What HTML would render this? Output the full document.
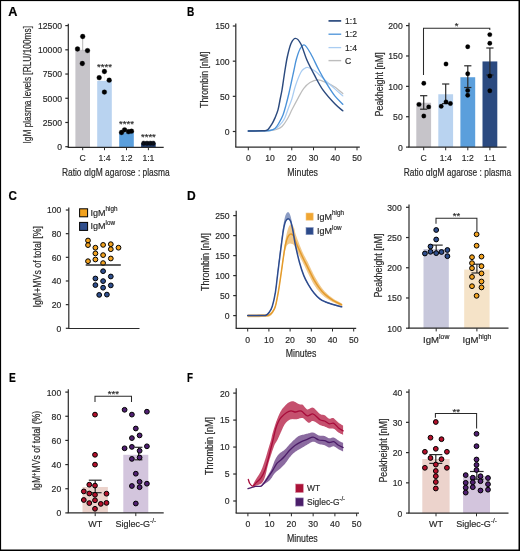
<!DOCTYPE html>
<html><head><meta charset="utf-8"><style>
html,body{margin:0;padding:0;background:#fff;}
svg{display:block;will-change:transform;}
text{font-family:"Liberation Sans", sans-serif;stroke-width:0.18px;}
</style></head><body>
<svg width="520" height="551" viewBox="0 0 520 551">
<rect x="0" y="0" width="520" height="551" fill="#000"/>
<rect x="1.1" y="1.1" width="517.4" height="548.4" fill="#fff"/>
<text x="8.30" y="16.30" font-size="12.8" text-anchor="start" fill="#000" stroke="#000" font-weight="bold" textLength="9.2" lengthAdjust="spacingAndGlyphs">A</text>
<text x="186.90" y="16.30" font-size="12.8" text-anchor="start" fill="#000" stroke="#000" font-weight="bold" textLength="7.3" lengthAdjust="spacingAndGlyphs">B</text>
<text x="8.60" y="199.60" font-size="12.8" text-anchor="start" fill="#000" stroke="#000" font-weight="bold" textLength="8.4" lengthAdjust="spacingAndGlyphs">C</text>
<text x="186.90" y="199.60" font-size="12.8" text-anchor="start" fill="#000" stroke="#000" font-weight="bold" textLength="8.7" lengthAdjust="spacingAndGlyphs">D</text>
<text x="9.10" y="382.00" font-size="12.8" text-anchor="start" fill="#000" stroke="#000" font-weight="bold" textLength="6.8" lengthAdjust="spacingAndGlyphs">E</text>
<text x="187.10" y="382.00" font-size="12.8" text-anchor="start" fill="#000" stroke="#000" font-weight="bold" textLength="6.0" lengthAdjust="spacingAndGlyphs">F</text>
<line x1="68.30" y1="23.80" x2="68.30" y2="147.40" stroke="#2a2a2a" stroke-width="1.2"/>
<line x1="65.30" y1="146.70" x2="68.30" y2="146.70" stroke="#2a2a2a" stroke-width="1.2"/>
<text transform="translate(62.00,150.10) scale(0.92,1)" x="0" y="0" font-size="9.4" text-anchor="end" fill="#2a2a2a" stroke="#2a2a2a" font-weight="normal">0</text>
<line x1="65.30" y1="122.48" x2="68.30" y2="122.48" stroke="#2a2a2a" stroke-width="1.2"/>
<text transform="translate(62.00,125.88) scale(0.92,1)" x="0" y="0" font-size="9.4" text-anchor="end" fill="#2a2a2a" stroke="#2a2a2a" font-weight="normal">2500</text>
<line x1="65.30" y1="98.26" x2="68.30" y2="98.26" stroke="#2a2a2a" stroke-width="1.2"/>
<text transform="translate(62.00,101.66) scale(0.92,1)" x="0" y="0" font-size="9.4" text-anchor="end" fill="#2a2a2a" stroke="#2a2a2a" font-weight="normal">5000</text>
<line x1="65.30" y1="74.04" x2="68.30" y2="74.04" stroke="#2a2a2a" stroke-width="1.2"/>
<text transform="translate(62.00,77.44) scale(0.92,1)" x="0" y="0" font-size="9.4" text-anchor="end" fill="#2a2a2a" stroke="#2a2a2a" font-weight="normal">7500</text>
<line x1="65.30" y1="49.82" x2="68.30" y2="49.82" stroke="#2a2a2a" stroke-width="1.2"/>
<text transform="translate(62.00,53.22) scale(0.92,1)" x="0" y="0" font-size="9.4" text-anchor="end" fill="#2a2a2a" stroke="#2a2a2a" font-weight="normal">10000</text>
<line x1="65.30" y1="25.60" x2="68.30" y2="25.60" stroke="#2a2a2a" stroke-width="1.2"/>
<text transform="translate(62.00,29.00) scale(0.92,1)" x="0" y="0" font-size="9.4" text-anchor="end" fill="#2a2a2a" stroke="#2a2a2a" font-weight="normal">12500</text>
<rect x="75.40" y="49.82" width="14.60" height="97.58" fill="#c6c4c9"/>
<line x1="82.70" y1="147.40" x2="82.70" y2="150.20" stroke="#2a2a2a" stroke-width="1.0"/>
<text transform="translate(82.70,161.30) scale(0.92,1)" x="0" y="0" font-size="9.4" text-anchor="middle" fill="#2a2a2a" stroke="#2a2a2a" font-weight="normal">C</text>
<rect x="97.20" y="80.82" width="14.60" height="66.58" fill="#b9d3f0"/>
<line x1="104.50" y1="147.40" x2="104.50" y2="150.20" stroke="#2a2a2a" stroke-width="1.0"/>
<text transform="translate(104.50,161.30) scale(0.92,1)" x="0" y="0" font-size="9.4" text-anchor="middle" fill="#2a2a2a" stroke="#2a2a2a" font-weight="normal">1:4</text>
<rect x="119.20" y="132.36" width="14.60" height="15.04" fill="#5b9fdc"/>
<line x1="126.50" y1="147.40" x2="126.50" y2="150.20" stroke="#2a2a2a" stroke-width="1.0"/>
<text transform="translate(126.50,161.30) scale(0.92,1)" x="0" y="0" font-size="9.4" text-anchor="middle" fill="#2a2a2a" stroke="#2a2a2a" font-weight="normal">1:2</text>
<rect x="141.10" y="143.50" width="14.60" height="3.90" fill="#1f3c70"/>
<line x1="148.40" y1="147.40" x2="148.40" y2="150.20" stroke="#2a2a2a" stroke-width="1.0"/>
<text transform="translate(148.40,161.30) scale(0.92,1)" x="0" y="0" font-size="9.4" text-anchor="middle" fill="#2a2a2a" stroke="#2a2a2a" font-weight="normal">1:1</text>
<line x1="67.70" y1="147.40" x2="163.70" y2="147.40" stroke="#2a2a2a" stroke-width="1.2"/>
<line x1="82.70" y1="36.50" x2="82.70" y2="50.40" stroke="#888" stroke-width="0.6"/>
<line x1="104.50" y1="71.50" x2="104.50" y2="80.80" stroke="#eee" stroke-width="0.6"/>
<circle cx="82.70" cy="36.50" r="2.4" fill="#000" stroke="#000" stroke-width="0.3"/>
<circle cx="77.50" cy="49.00" r="2.4" fill="#000" stroke="#000" stroke-width="0.3"/>
<circle cx="87.50" cy="50.60" r="2.4" fill="#000" stroke="#000" stroke-width="0.3"/>
<circle cx="82.30" cy="63.50" r="2.4" fill="#000" stroke="#000" stroke-width="0.3"/>
<circle cx="104.40" cy="71.50" r="2.4" fill="#000" stroke="#000" stroke-width="0.3"/>
<circle cx="99.20" cy="77.70" r="2.4" fill="#000" stroke="#000" stroke-width="0.3"/>
<circle cx="109.20" cy="80.20" r="2.4" fill="#000" stroke="#000" stroke-width="0.3"/>
<circle cx="104.40" cy="92.10" r="2.4" fill="#000" stroke="#000" stroke-width="0.3"/>
<circle cx="121.50" cy="132.50" r="2.4" fill="#000" stroke="#000" stroke-width="0.3"/>
<circle cx="124.60" cy="129.80" r="2.4" fill="#000" stroke="#000" stroke-width="0.3"/>
<circle cx="128.50" cy="131.70" r="2.4" fill="#000" stroke="#000" stroke-width="0.3"/>
<circle cx="131.50" cy="131.20" r="2.4" fill="#000" stroke="#000" stroke-width="0.3"/>
<circle cx="143.70" cy="143.20" r="2.3" fill="#0a0f1a" stroke="#000" stroke-width="0.3"/>
<circle cx="147.00" cy="143.20" r="2.3" fill="#0a0f1a" stroke="#000" stroke-width="0.3"/>
<circle cx="150.30" cy="143.20" r="2.3" fill="#0a0f1a" stroke="#000" stroke-width="0.3"/>
<circle cx="153.20" cy="143.20" r="2.3" fill="#0a0f1a" stroke="#000" stroke-width="0.3"/>
<text x="104.50" y="70.30" font-size="9.5" text-anchor="middle" fill="#2a2a2a" stroke="#2a2a2a" font-weight="normal">****</text>
<text x="126.50" y="126.70" font-size="9.5" text-anchor="middle" fill="#2a2a2a" stroke="#2a2a2a" font-weight="normal">****</text>
<text x="148.40" y="140.30" font-size="9.5" text-anchor="middle" fill="#2a2a2a" stroke="#2a2a2a" font-weight="normal">****</text>
<text transform="translate(30.60,84.80) rotate(-90)" x="0" y="0" font-size="10" text-anchor="middle" fill="#2a2a2a" stroke="#2a2a2a" textLength="117.5" lengthAdjust="spacingAndGlyphs">IgM plasma levels [RLU/100ms]</text>
<text x="115.80" y="176.00" font-size="10" text-anchor="middle" fill="#2a2a2a" stroke="#2a2a2a" font-weight="normal" textLength="107.8" lengthAdjust="spacingAndGlyphs">Ratio αIgM agarose : plasma</text>
<line x1="235.80" y1="23.50" x2="235.80" y2="147.10" stroke="#2a2a2a" stroke-width="1.2"/>
<line x1="232.80" y1="131.50" x2="235.80" y2="131.50" stroke="#2a2a2a" stroke-width="1.2"/>
<text transform="translate(229.60,134.90) scale(0.92,1)" x="0" y="0" font-size="9.4" text-anchor="end" fill="#2a2a2a" stroke="#2a2a2a" font-weight="normal">0</text>
<line x1="232.80" y1="96.33" x2="235.80" y2="96.33" stroke="#2a2a2a" stroke-width="1.2"/>
<text transform="translate(229.60,99.73) scale(0.92,1)" x="0" y="0" font-size="9.4" text-anchor="end" fill="#2a2a2a" stroke="#2a2a2a" font-weight="normal">50</text>
<line x1="232.80" y1="61.17" x2="235.80" y2="61.17" stroke="#2a2a2a" stroke-width="1.2"/>
<text transform="translate(229.60,64.57) scale(0.92,1)" x="0" y="0" font-size="9.4" text-anchor="end" fill="#2a2a2a" stroke="#2a2a2a" font-weight="normal">100</text>
<line x1="232.80" y1="26.00" x2="235.80" y2="26.00" stroke="#2a2a2a" stroke-width="1.2"/>
<text transform="translate(229.60,29.40) scale(0.92,1)" x="0" y="0" font-size="9.4" text-anchor="end" fill="#2a2a2a" stroke="#2a2a2a" font-weight="normal">150</text>
<line x1="235.20" y1="147.10" x2="359.80" y2="147.10" stroke="#2a2a2a" stroke-width="1.2"/>
<line x1="248.30" y1="147.10" x2="248.30" y2="150.30" stroke="#2a2a2a" stroke-width="1.0"/>
<text transform="translate(248.30,161.30) scale(0.92,1)" x="0" y="0" font-size="9.4" text-anchor="middle" fill="#2a2a2a" stroke="#2a2a2a" font-weight="normal">0</text>
<line x1="270.04" y1="147.10" x2="270.04" y2="150.30" stroke="#2a2a2a" stroke-width="1.0"/>
<text transform="translate(270.04,161.30) scale(0.92,1)" x="0" y="0" font-size="9.4" text-anchor="middle" fill="#2a2a2a" stroke="#2a2a2a" font-weight="normal">10</text>
<line x1="291.78" y1="147.10" x2="291.78" y2="150.30" stroke="#2a2a2a" stroke-width="1.0"/>
<text transform="translate(291.78,161.30) scale(0.92,1)" x="0" y="0" font-size="9.4" text-anchor="middle" fill="#2a2a2a" stroke="#2a2a2a" font-weight="normal">20</text>
<line x1="313.52" y1="147.10" x2="313.52" y2="150.30" stroke="#2a2a2a" stroke-width="1.0"/>
<text transform="translate(313.52,161.30) scale(0.92,1)" x="0" y="0" font-size="9.4" text-anchor="middle" fill="#2a2a2a" stroke="#2a2a2a" font-weight="normal">30</text>
<line x1="335.26" y1="147.10" x2="335.26" y2="150.30" stroke="#2a2a2a" stroke-width="1.0"/>
<text transform="translate(335.26,161.30) scale(0.92,1)" x="0" y="0" font-size="9.4" text-anchor="middle" fill="#2a2a2a" stroke="#2a2a2a" font-weight="normal">40</text>
<line x1="357.00" y1="147.10" x2="357.00" y2="150.30" stroke="#2a2a2a" stroke-width="1.0"/>
<text transform="translate(357.00,161.30) scale(0.92,1)" x="0" y="0" font-size="9.4" text-anchor="middle" fill="#2a2a2a" stroke="#2a2a2a" font-weight="normal">50</text>
<text x="302.60" y="176.00" font-size="10" text-anchor="middle" fill="#2a2a2a" stroke="#2a2a2a" font-weight="normal" textLength="30.6" lengthAdjust="spacingAndGlyphs">Minutes</text>
<text transform="translate(208.00,79.70) rotate(-90)" x="0" y="0" font-size="10" text-anchor="middle" fill="#2a2a2a" stroke="#2a2a2a" textLength="56.5" lengthAdjust="spacingAndGlyphs">Thrombin [nM]</text>
<path d="M248.30,131.00 C250.58,130.97 258.38,130.87 262.00,130.80 C265.62,130.73 267.62,130.82 270.00,130.60 C272.38,130.38 274.30,130.18 276.30,129.50 C278.30,128.82 280.18,128.20 282.00,126.50 C283.82,124.80 285.48,122.22 287.20,119.30 C288.92,116.38 290.48,112.53 292.30,109.00 C294.12,105.47 296.22,101.50 298.10,98.10 C299.98,94.70 301.62,91.20 303.60,88.60 C305.58,86.00 307.62,83.95 310.00,82.50 C312.38,81.05 315.10,79.83 317.90,79.90 C320.70,79.97 323.98,81.73 326.80,82.90 C329.62,84.07 332.13,85.13 334.80,86.90 C337.47,88.67 341.47,92.40 342.80,93.50" fill="none" stroke="#bdbdbd" stroke-width="1.25" stroke-linejoin="round" stroke-linecap="round"/>
<path d="M248.30,131.00 C250.58,130.97 258.05,130.93 262.00,130.80 C265.95,130.67 269.50,130.70 272.00,130.20 C274.50,129.70 275.37,129.05 277.00,127.80 C278.63,126.55 280.47,124.42 281.80,122.70 C283.13,120.98 283.80,120.20 285.00,117.50 C286.20,114.80 287.83,109.67 289.00,106.50 C290.17,103.33 290.93,101.92 292.00,98.50 C293.07,95.08 293.92,90.37 295.40,86.00 C296.88,81.63 299.38,75.22 300.90,72.30 C302.42,69.38 303.33,69.30 304.50,68.50 C305.67,67.70 306.17,67.10 307.90,67.50 C309.63,67.90 312.08,68.83 314.90,70.90 C317.72,72.97 321.48,76.90 324.80,79.90 C328.12,82.90 331.80,86.23 334.80,88.90 C337.80,91.57 341.47,94.73 342.80,95.90" fill="none" stroke="#aacdf2" stroke-width="1.25" stroke-linejoin="round" stroke-linecap="round"/>
<path d="M248.30,131.00 C250.58,130.97 258.38,130.88 262.00,130.80 C265.62,130.72 267.83,130.87 270.00,130.50 C272.17,130.13 273.50,129.87 275.00,128.60 C276.50,127.33 277.67,125.18 279.00,122.90 C280.33,120.62 281.83,117.88 283.00,114.90 C284.17,111.92 285.00,108.65 286.00,105.00 C287.00,101.35 288.10,96.83 289.00,93.00 C289.90,89.17 290.57,85.83 291.40,82.00 C292.23,78.17 293.18,73.75 294.00,70.00 C294.82,66.25 295.30,63.00 296.30,59.50 C297.30,56.00 298.63,51.42 300.00,49.00 C301.37,46.58 302.68,44.17 304.50,45.00 C306.32,45.83 308.50,49.83 310.90,54.00 C313.30,58.17 316.25,65.02 318.90,70.00 C321.55,74.98 324.15,79.58 326.80,83.90 C329.45,88.22 332.13,92.52 334.80,95.90 C337.47,99.28 341.47,102.82 342.80,104.20" fill="none" stroke="#4a92d9" stroke-width="1.35" stroke-linejoin="round" stroke-linecap="round"/>
<path d="M248.30,131.00 C250.58,130.97 259.13,130.87 262.00,130.80 C264.87,130.73 264.50,130.83 265.50,130.60 C266.50,130.37 266.92,130.52 268.00,129.40 C269.08,128.28 270.83,125.82 272.00,123.90 C273.17,121.98 274.00,120.23 275.00,117.90 C276.00,115.57 277.17,112.88 278.00,109.90 C278.83,106.92 279.33,103.32 280.00,100.00 C280.67,96.68 281.42,93.33 282.00,90.00 C282.58,86.67 282.92,83.83 283.50,80.00 C284.08,76.17 284.83,71.00 285.50,67.00 C286.17,63.00 286.58,59.92 287.50,56.00 C288.42,52.08 289.67,46.43 291.00,43.50 C292.33,40.57 293.85,38.32 295.50,38.40 C297.15,38.48 299.00,40.40 300.90,44.00 C302.80,47.60 304.57,54.68 306.90,60.00 C309.23,65.32 312.23,70.92 314.90,75.90 C317.57,80.88 319.58,85.25 322.90,89.90 C326.22,94.55 331.48,100.32 334.80,103.80 C338.12,107.28 341.47,109.63 342.80,110.80" fill="none" stroke="#2b4a7e" stroke-width="1.45" stroke-linejoin="round" stroke-linecap="round"/>
<line x1="328.50" y1="20.90" x2="341.20" y2="20.90" stroke="#2b4a7e" stroke-width="1.7"/>
<text transform="translate(345.00,24.00) scale(0.92,1)" x="0" y="0" font-size="9.4" text-anchor="start" fill="#2a2a2a" stroke="#2a2a2a" font-weight="normal">1:1</text>
<line x1="328.50" y1="34.20" x2="341.20" y2="34.20" stroke="#4a92d9" stroke-width="1.3"/>
<text transform="translate(345.00,37.30) scale(0.92,1)" x="0" y="0" font-size="9.4" text-anchor="start" fill="#2a2a2a" stroke="#2a2a2a" font-weight="normal">1:2</text>
<line x1="328.50" y1="47.60" x2="341.20" y2="47.60" stroke="#aacdf2" stroke-width="1.3"/>
<text transform="translate(345.00,50.70) scale(0.92,1)" x="0" y="0" font-size="9.4" text-anchor="start" fill="#2a2a2a" stroke="#2a2a2a" font-weight="normal">1:4</text>
<line x1="328.50" y1="60.60" x2="341.20" y2="60.60" stroke="#bdbdbd" stroke-width="1.4"/>
<text transform="translate(345.00,63.70) scale(0.92,1)" x="0" y="0" font-size="9.4" text-anchor="start" fill="#2a2a2a" stroke="#2a2a2a" font-weight="normal">C</text>
<line x1="409.00" y1="22.70" x2="409.00" y2="147.10" stroke="#2a2a2a" stroke-width="1.2"/>
<line x1="406.00" y1="147.10" x2="409.00" y2="147.10" stroke="#2a2a2a" stroke-width="1.2"/>
<text transform="translate(402.70,150.50) scale(0.92,1)" x="0" y="0" font-size="9.4" text-anchor="end" fill="#2a2a2a" stroke="#2a2a2a" font-weight="normal">0</text>
<line x1="406.00" y1="116.72" x2="409.00" y2="116.72" stroke="#2a2a2a" stroke-width="1.2"/>
<text transform="translate(402.70,120.12) scale(0.92,1)" x="0" y="0" font-size="9.4" text-anchor="end" fill="#2a2a2a" stroke="#2a2a2a" font-weight="normal">50</text>
<line x1="406.00" y1="86.35" x2="409.00" y2="86.35" stroke="#2a2a2a" stroke-width="1.2"/>
<text transform="translate(402.70,89.75) scale(0.92,1)" x="0" y="0" font-size="9.4" text-anchor="end" fill="#2a2a2a" stroke="#2a2a2a" font-weight="normal">100</text>
<line x1="406.00" y1="55.97" x2="409.00" y2="55.97" stroke="#2a2a2a" stroke-width="1.2"/>
<text transform="translate(402.70,59.37) scale(0.92,1)" x="0" y="0" font-size="9.4" text-anchor="end" fill="#2a2a2a" stroke="#2a2a2a" font-weight="normal">150</text>
<line x1="406.00" y1="25.60" x2="409.00" y2="25.60" stroke="#2a2a2a" stroke-width="1.2"/>
<text transform="translate(402.70,29.00) scale(0.92,1)" x="0" y="0" font-size="9.4" text-anchor="end" fill="#2a2a2a" stroke="#2a2a2a" font-weight="normal">200</text>
<rect x="416.30" y="102.75" width="14.80" height="44.35" fill="#c6c4c9"/>
<line x1="423.70" y1="147.10" x2="423.70" y2="150.30" stroke="#2a2a2a" stroke-width="1.0"/>
<text transform="translate(423.70,161.30) scale(0.92,1)" x="0" y="0" font-size="9.4" text-anchor="middle" fill="#2a2a2a" stroke="#2a2a2a" font-weight="normal">C</text>
<rect x="438.30" y="94.25" width="14.80" height="52.85" fill="#b9d3f0"/>
<line x1="445.70" y1="147.10" x2="445.70" y2="150.30" stroke="#2a2a2a" stroke-width="1.0"/>
<text transform="translate(445.70,161.30) scale(0.92,1)" x="0" y="0" font-size="9.4" text-anchor="middle" fill="#2a2a2a" stroke="#2a2a2a" font-weight="normal">1:4</text>
<rect x="460.40" y="77.24" width="14.80" height="69.86" fill="#5b9fdc"/>
<line x1="467.80" y1="147.10" x2="467.80" y2="150.30" stroke="#2a2a2a" stroke-width="1.0"/>
<text transform="translate(467.80,161.30) scale(0.92,1)" x="0" y="0" font-size="9.4" text-anchor="middle" fill="#2a2a2a" stroke="#2a2a2a" font-weight="normal">1:2</text>
<rect x="482.50" y="61.44" width="14.80" height="85.66" fill="#2b4a80"/>
<line x1="489.90" y1="147.10" x2="489.90" y2="150.30" stroke="#2a2a2a" stroke-width="1.0"/>
<text transform="translate(489.90,161.30) scale(0.92,1)" x="0" y="0" font-size="9.4" text-anchor="middle" fill="#2a2a2a" stroke="#2a2a2a" font-weight="normal">1:1</text>
<line x1="408.40" y1="147.10" x2="506.50" y2="147.10" stroke="#2a2a2a" stroke-width="1.2"/>
<line x1="423.70" y1="95.70" x2="423.70" y2="109.20" stroke="#2a2a2a" stroke-width="1.2"/>
<line x1="420.10" y1="95.70" x2="427.30" y2="95.70" stroke="#2a2a2a" stroke-width="1.2"/>
<line x1="420.10" y1="109.20" x2="427.30" y2="109.20" stroke="#2a2a2a" stroke-width="1.2"/>
<line x1="445.70" y1="84.00" x2="445.70" y2="103.60" stroke="#2a2a2a" stroke-width="1.2"/>
<line x1="442.10" y1="84.00" x2="449.30" y2="84.00" stroke="#2a2a2a" stroke-width="1.2"/>
<line x1="442.10" y1="103.60" x2="449.30" y2="103.60" stroke="#2a2a2a" stroke-width="1.2"/>
<line x1="467.80" y1="65.80" x2="467.80" y2="87.50" stroke="#2a2a2a" stroke-width="1.2"/>
<line x1="464.20" y1="65.80" x2="471.40" y2="65.80" stroke="#2a2a2a" stroke-width="1.2"/>
<line x1="464.20" y1="87.50" x2="471.40" y2="87.50" stroke="#2a2a2a" stroke-width="1.2"/>
<line x1="489.90" y1="48.00" x2="489.90" y2="75.00" stroke="#2a2a2a" stroke-width="1.2"/>
<line x1="486.30" y1="48.00" x2="493.50" y2="48.00" stroke="#2a2a2a" stroke-width="1.2"/>
<line x1="486.30" y1="75.00" x2="493.50" y2="75.00" stroke="#2a2a2a" stroke-width="1.2"/>
<circle cx="423.80" cy="83.30" r="2.2" fill="#000" stroke="#000" stroke-width="0.3"/>
<circle cx="419.00" cy="104.40" r="2.2" fill="#000" stroke="#000" stroke-width="0.3"/>
<circle cx="428.70" cy="106.90" r="2.2" fill="#000" stroke="#000" stroke-width="0.3"/>
<circle cx="423.80" cy="116.00" r="2.2" fill="#000" stroke="#000" stroke-width="0.3"/>
<circle cx="446.00" cy="64.00" r="2.2" fill="#000" stroke="#000" stroke-width="0.3"/>
<circle cx="441.20" cy="106.30" r="2.2" fill="#000" stroke="#000" stroke-width="0.3"/>
<circle cx="446.00" cy="101.90" r="2.2" fill="#000" stroke="#000" stroke-width="0.3"/>
<circle cx="450.40" cy="103.50" r="2.2" fill="#000" stroke="#000" stroke-width="0.3"/>
<circle cx="467.70" cy="46.70" r="2.2" fill="#000" stroke="#000" stroke-width="0.3"/>
<circle cx="467.70" cy="73.70" r="2.2" fill="#000" stroke="#000" stroke-width="0.3"/>
<circle cx="467.70" cy="90.40" r="2.2" fill="#000" stroke="#000" stroke-width="0.3"/>
<circle cx="467.70" cy="95.20" r="2.2" fill="#000" stroke="#000" stroke-width="0.3"/>
<circle cx="489.80" cy="34.60" r="2.2" fill="#000" stroke="#000" stroke-width="0.3"/>
<circle cx="489.80" cy="43.30" r="2.2" fill="#000" stroke="#000" stroke-width="0.3"/>
<circle cx="489.80" cy="76.00" r="2.2" fill="#000" stroke="#000" stroke-width="0.3"/>
<circle cx="489.80" cy="90.80" r="2.2" fill="#000" stroke="#000" stroke-width="0.3"/>
<path d="M423.5,75 L423.5,28.3 L489.8,28.3 L489.8,30" fill="none" stroke="#2a2a2a" stroke-width="1.05"/>
<text x="456.50" y="29.00" font-size="9.5" text-anchor="middle" fill="#2a2a2a" stroke="#2a2a2a" font-weight="normal">*</text>
<text transform="translate(382.60,84.40) rotate(-90)" x="0" y="0" font-size="10" text-anchor="middle" fill="#2a2a2a" stroke="#2a2a2a" textLength="64" lengthAdjust="spacingAndGlyphs">Peakheight [nM]</text>
<text x="457.50" y="176.00" font-size="10" text-anchor="middle" fill="#2a2a2a" stroke="#2a2a2a" font-weight="normal" textLength="107.6" lengthAdjust="spacingAndGlyphs">Ratio αIgM agarose : plasma</text>
<line x1="68.80" y1="207.50" x2="68.80" y2="328.50" stroke="#2a2a2a" stroke-width="1.2"/>
<line x1="65.80" y1="328.30" x2="68.80" y2="328.30" stroke="#2a2a2a" stroke-width="1.2"/>
<text transform="translate(61.30,331.70) scale(0.92,1)" x="0" y="0" font-size="9.4" text-anchor="end" fill="#2a2a2a" stroke="#2a2a2a" font-weight="normal">0</text>
<line x1="65.80" y1="304.64" x2="68.80" y2="304.64" stroke="#2a2a2a" stroke-width="1.2"/>
<text transform="translate(61.30,308.04) scale(0.92,1)" x="0" y="0" font-size="9.4" text-anchor="end" fill="#2a2a2a" stroke="#2a2a2a" font-weight="normal">20</text>
<line x1="65.80" y1="280.98" x2="68.80" y2="280.98" stroke="#2a2a2a" stroke-width="1.2"/>
<text transform="translate(61.30,284.38) scale(0.92,1)" x="0" y="0" font-size="9.4" text-anchor="end" fill="#2a2a2a" stroke="#2a2a2a" font-weight="normal">40</text>
<line x1="65.80" y1="257.32" x2="68.80" y2="257.32" stroke="#2a2a2a" stroke-width="1.2"/>
<text transform="translate(61.30,260.72) scale(0.92,1)" x="0" y="0" font-size="9.4" text-anchor="end" fill="#2a2a2a" stroke="#2a2a2a" font-weight="normal">60</text>
<line x1="65.80" y1="233.66" x2="68.80" y2="233.66" stroke="#2a2a2a" stroke-width="1.2"/>
<text transform="translate(61.30,237.06) scale(0.92,1)" x="0" y="0" font-size="9.4" text-anchor="end" fill="#2a2a2a" stroke="#2a2a2a" font-weight="normal">80</text>
<line x1="65.80" y1="210.00" x2="68.80" y2="210.00" stroke="#2a2a2a" stroke-width="1.2"/>
<text transform="translate(61.30,213.40) scale(0.92,1)" x="0" y="0" font-size="9.4" text-anchor="end" fill="#2a2a2a" stroke="#2a2a2a" font-weight="normal">100</text>
<line x1="68.20" y1="328.50" x2="139.50" y2="328.50" stroke="#2a2a2a" stroke-width="1.2"/>
<text transform="translate(40.50,266.80) rotate(-90)" x="0" y="0" font-size="10" text-anchor="middle" fill="#2a2a2a" stroke="#2a2a2a" textLength="81.5" lengthAdjust="spacingAndGlyphs">IgM+MVs of total [%]</text>
<circle cx="88.00" cy="240.50" r="2.4" fill="#f2a21f" stroke="#000" stroke-width="1.0"/>
<circle cx="88.00" cy="245.10" r="2.4" fill="#f2a21f" stroke="#000" stroke-width="1.0"/>
<circle cx="95.40" cy="247.70" r="2.4" fill="#f2a21f" stroke="#000" stroke-width="1.0"/>
<circle cx="103.10" cy="244.90" r="2.4" fill="#f2a21f" stroke="#000" stroke-width="1.0"/>
<circle cx="110.80" cy="244.20" r="2.4" fill="#f2a21f" stroke="#000" stroke-width="1.0"/>
<circle cx="110.80" cy="249.20" r="2.4" fill="#f2a21f" stroke="#000" stroke-width="1.0"/>
<circle cx="118.50" cy="247.70" r="2.4" fill="#f2a21f" stroke="#000" stroke-width="1.0"/>
<circle cx="95.40" cy="253.40" r="2.4" fill="#f2a21f" stroke="#000" stroke-width="1.0"/>
<circle cx="103.10" cy="255.10" r="2.4" fill="#f2a21f" stroke="#000" stroke-width="1.0"/>
<circle cx="88.00" cy="261.20" r="2.4" fill="#f2a21f" stroke="#000" stroke-width="1.0"/>
<circle cx="95.40" cy="259.50" r="2.4" fill="#f2a21f" stroke="#000" stroke-width="1.0"/>
<circle cx="110.80" cy="258.50" r="2.4" fill="#f2a21f" stroke="#000" stroke-width="1.0"/>
<circle cx="103.10" cy="263.10" r="2.4" fill="#f2a21f" stroke="#000" stroke-width="1.0"/>
<line x1="85.70" y1="265.00" x2="120.80" y2="265.00" stroke="#2a2a2a" stroke-width="1.5"/>
<circle cx="103.10" cy="271.20" r="2.4" fill="#2f4e8c" stroke="#000" stroke-width="1.0"/>
<circle cx="95.40" cy="278.50" r="2.4" fill="#2f4e8c" stroke="#000" stroke-width="1.0"/>
<circle cx="110.80" cy="276.50" r="2.4" fill="#2f4e8c" stroke="#000" stroke-width="1.0"/>
<circle cx="103.10" cy="281.10" r="2.4" fill="#2f4e8c" stroke="#000" stroke-width="1.0"/>
<circle cx="95.40" cy="285.10" r="2.4" fill="#2f4e8c" stroke="#000" stroke-width="1.0"/>
<circle cx="110.80" cy="285.40" r="2.4" fill="#2f4e8c" stroke="#000" stroke-width="1.0"/>
<circle cx="103.10" cy="287.70" r="2.4" fill="#2f4e8c" stroke="#000" stroke-width="1.0"/>
<circle cx="99.20" cy="294.90" r="2.4" fill="#2f4e8c" stroke="#000" stroke-width="1.0"/>
<circle cx="106.90" cy="294.60" r="2.4" fill="#2f4e8c" stroke="#000" stroke-width="1.0"/>
<rect x="79.6" y="208.8" width="8" height="8" fill="#f2a21f" stroke="#000" stroke-width="1.0"/>
<rect x="79.6" y="222.4" width="8" height="8" fill="#2f4e8c" stroke="#000" stroke-width="1.0"/>
<text x="90.50" y="215.50" font-size="9" text-anchor="start" fill="#2a2a2a" stroke="#2a2a2a" font-weight="normal">IgM<tspan font-size="6.3" dy="-4.3">high</tspan></text>
<text x="90.50" y="229.00" font-size="9" text-anchor="start" fill="#2a2a2a" stroke="#2a2a2a" font-weight="normal">IgM<tspan font-size="6.3" dy="-4.3">low</tspan></text>
<line x1="236.20" y1="210.80" x2="236.20" y2="328.30" stroke="#2a2a2a" stroke-width="1.2"/>
<line x1="233.20" y1="315.60" x2="236.20" y2="315.60" stroke="#2a2a2a" stroke-width="1.2"/>
<text transform="translate(229.60,319.00) scale(0.92,1)" x="0" y="0" font-size="9.4" text-anchor="end" fill="#2a2a2a" stroke="#2a2a2a" font-weight="normal">0</text>
<line x1="233.20" y1="295.60" x2="236.20" y2="295.60" stroke="#2a2a2a" stroke-width="1.2"/>
<text transform="translate(229.60,299.00) scale(0.92,1)" x="0" y="0" font-size="9.4" text-anchor="end" fill="#2a2a2a" stroke="#2a2a2a" font-weight="normal">50</text>
<line x1="233.20" y1="275.60" x2="236.20" y2="275.60" stroke="#2a2a2a" stroke-width="1.2"/>
<text transform="translate(229.60,279.00) scale(0.92,1)" x="0" y="0" font-size="9.4" text-anchor="end" fill="#2a2a2a" stroke="#2a2a2a" font-weight="normal">100</text>
<line x1="233.20" y1="255.60" x2="236.20" y2="255.60" stroke="#2a2a2a" stroke-width="1.2"/>
<text transform="translate(229.60,259.00) scale(0.92,1)" x="0" y="0" font-size="9.4" text-anchor="end" fill="#2a2a2a" stroke="#2a2a2a" font-weight="normal">150</text>
<line x1="233.20" y1="235.60" x2="236.20" y2="235.60" stroke="#2a2a2a" stroke-width="1.2"/>
<text transform="translate(229.60,239.00) scale(0.92,1)" x="0" y="0" font-size="9.4" text-anchor="end" fill="#2a2a2a" stroke="#2a2a2a" font-weight="normal">200</text>
<line x1="233.20" y1="215.60" x2="236.20" y2="215.60" stroke="#2a2a2a" stroke-width="1.2"/>
<text transform="translate(229.60,219.00) scale(0.92,1)" x="0" y="0" font-size="9.4" text-anchor="end" fill="#2a2a2a" stroke="#2a2a2a" font-weight="normal">250</text>
<line x1="235.60" y1="328.30" x2="356.20" y2="328.30" stroke="#2a2a2a" stroke-width="1.2"/>
<line x1="247.70" y1="328.30" x2="247.70" y2="331.50" stroke="#2a2a2a" stroke-width="1.0"/>
<text transform="translate(247.70,343.30) scale(0.92,1)" x="0" y="0" font-size="9.4" text-anchor="middle" fill="#2a2a2a" stroke="#2a2a2a" font-weight="normal">0</text>
<line x1="268.90" y1="328.30" x2="268.90" y2="331.50" stroke="#2a2a2a" stroke-width="1.0"/>
<text transform="translate(268.90,343.30) scale(0.92,1)" x="0" y="0" font-size="9.4" text-anchor="middle" fill="#2a2a2a" stroke="#2a2a2a" font-weight="normal">10</text>
<line x1="290.10" y1="328.30" x2="290.10" y2="331.50" stroke="#2a2a2a" stroke-width="1.0"/>
<text transform="translate(290.10,343.30) scale(0.92,1)" x="0" y="0" font-size="9.4" text-anchor="middle" fill="#2a2a2a" stroke="#2a2a2a" font-weight="normal">20</text>
<line x1="311.30" y1="328.30" x2="311.30" y2="331.50" stroke="#2a2a2a" stroke-width="1.0"/>
<text transform="translate(311.30,343.30) scale(0.92,1)" x="0" y="0" font-size="9.4" text-anchor="middle" fill="#2a2a2a" stroke="#2a2a2a" font-weight="normal">30</text>
<line x1="332.50" y1="328.30" x2="332.50" y2="331.50" stroke="#2a2a2a" stroke-width="1.0"/>
<text transform="translate(332.50,343.30) scale(0.92,1)" x="0" y="0" font-size="9.4" text-anchor="middle" fill="#2a2a2a" stroke="#2a2a2a" font-weight="normal">40</text>
<line x1="353.70" y1="328.30" x2="353.70" y2="331.50" stroke="#2a2a2a" stroke-width="1.0"/>
<text transform="translate(353.70,343.30) scale(0.92,1)" x="0" y="0" font-size="9.4" text-anchor="middle" fill="#2a2a2a" stroke="#2a2a2a" font-weight="normal">50</text>
<text x="301.00" y="357.30" font-size="10" text-anchor="middle" fill="#2a2a2a" stroke="#2a2a2a" font-weight="normal" textLength="30.6" lengthAdjust="spacingAndGlyphs">Minutes</text>
<text transform="translate(208.50,262.00) rotate(-90)" x="0" y="0" font-size="10" text-anchor="middle" fill="#2a2a2a" stroke="#2a2a2a" textLength="58" lengthAdjust="spacingAndGlyphs">Thrombin [nM]</text>
<path d="M247.70,314.20 L248.86,314.19 L250.43,314.18 L252.31,314.17 L254.41,314.16 L256.63,314.14 L258.87,314.12 L261.02,314.10 L262.99,314.07 L264.69,314.04 L266.00,314.00 L266.95,313.95 L267.66,313.92 L268.16,313.88 L268.50,313.84 L268.72,313.79 L268.86,313.73 L268.97,313.65 L269.08,313.55 L269.24,313.43 L269.50,313.29 L269.81,313.13 L270.10,312.96 L270.38,312.78 L270.66,312.59 L270.93,312.37 L271.19,312.13 L271.46,311.85 L271.73,311.54 L272.01,311.18 L272.30,310.77 L272.60,310.35 L272.90,309.93 L273.21,309.49 L273.52,309.03 L273.83,308.52 L274.15,307.94 L274.46,307.28 L274.78,306.52 L275.09,305.64 L275.40,304.63 L275.71,303.48 L276.02,302.20 L276.33,300.82 L276.64,299.33 L276.96,297.76 L277.27,296.12 L277.58,294.41 L277.89,292.67 L278.19,290.88 L278.50,289.08 L278.80,287.23 L279.11,285.31 L279.41,283.32 L279.71,281.27 L280.01,279.19 L280.31,277.07 L280.61,274.93 L280.91,272.77 L281.20,270.62 L281.50,268.48 L281.80,266.30 L282.10,264.02 L282.40,261.67 L282.71,259.31 L283.01,256.95 L283.30,254.64 L283.59,252.40 L283.87,250.27 L284.14,248.29 L284.40,246.48 L284.64,244.85 L284.87,243.35 L285.09,241.97 L285.29,240.70 L285.49,239.52 L285.69,238.41 L285.89,237.35 L286.09,236.34 L286.29,235.36 L286.50,234.39 L286.71,233.44 L286.93,232.55 L287.14,231.70 L287.35,230.90 L287.57,230.15 L287.79,229.44 L288.01,228.78 L288.23,228.17 L288.46,227.60 L288.70,227.07 L288.94,226.58 L289.19,226.11 L289.45,225.69 L289.71,225.31 L289.97,224.98 L290.23,224.70 L290.50,224.48 L290.77,224.33 L291.03,224.24 L291.30,224.24 L291.57,224.32 L291.85,224.48 L292.13,224.72 L292.41,225.02 L292.69,225.38 L292.97,225.80 L293.25,226.25 L293.51,226.74 L293.76,227.25 L294.00,227.78 L294.20,228.31 L294.36,228.83 L294.48,229.37 L294.60,229.94 L294.71,230.55 L294.85,231.23 L295.02,231.99 L295.24,232.86 L295.53,233.84 L295.90,234.96 L296.37,236.27 L296.92,237.78 L297.53,239.44 L298.20,241.21 L298.91,243.04 L299.63,244.90 L300.36,246.74 L301.07,248.50 L301.76,250.15 L302.40,251.65 L303.01,253.00 L303.60,254.25 L304.19,255.42 L304.77,256.54 L305.34,257.61 L305.91,258.66 L306.48,259.71 L307.05,260.77 L307.62,261.86 L308.20,263.00 L308.78,264.19 L309.36,265.41 L309.94,266.65 L310.52,267.90 L311.10,269.15 L311.68,270.39 L312.26,271.61 L312.84,272.81 L313.42,273.98 L314.00,275.10 L314.58,276.18 L315.17,277.25 L315.76,278.30 L316.35,279.33 L316.94,280.33 L317.52,281.30 L318.10,282.25 L318.68,283.17 L319.24,284.05 L319.80,284.89 L320.33,285.69 L320.83,286.44 L321.32,287.15 L321.79,287.82 L322.26,288.47 L322.75,289.10 L323.25,289.73 L323.79,290.36 L324.37,291.01 L325.00,291.67 L325.68,292.36 L326.41,293.06 L327.17,293.77 L327.96,294.49 L328.78,295.19 L329.62,295.89 L330.46,296.58 L331.31,297.24 L332.16,297.87 L333.00,298.47 L333.88,299.05 L334.83,299.63 L335.83,300.20 L336.85,300.76 L337.85,301.29 L338.81,301.78 L339.71,302.23 L340.51,302.64 L341.18,302.98 L341.70,303.26 L341.70,306.34 L341.18,306.10 L340.51,305.78 L339.71,305.42 L338.81,305.00 L337.85,304.55 L336.85,304.08 L335.83,303.59 L334.83,303.09 L333.88,302.60 L333.00,302.13 L332.16,301.66 L331.31,301.18 L330.46,300.68 L329.62,300.18 L328.78,299.67 L327.96,299.15 L327.17,298.64 L326.41,298.13 L325.68,297.63 L325.00,297.13 L324.37,296.65 L323.79,296.20 L323.25,295.76 L322.75,295.32 L322.26,294.88 L321.79,294.43 L321.32,293.95 L320.83,293.45 L320.33,292.90 L319.80,292.31 L319.24,291.67 L318.68,291.02 L318.10,290.34 L317.52,289.63 L316.94,288.90 L316.35,288.13 L315.76,287.33 L315.17,286.49 L314.58,285.62 L314.00,284.70 L313.42,283.74 L312.84,282.72 L312.26,281.65 L311.68,280.55 L311.10,279.42 L310.52,278.26 L309.94,277.10 L309.36,275.93 L308.78,274.76 L308.20,273.60 L307.62,272.45 L307.05,271.29 L306.48,270.12 L305.91,268.94 L305.34,267.75 L304.77,266.56 L304.19,265.36 L303.60,264.16 L303.01,262.96 L302.40,261.75 L301.76,260.50 L301.07,259.19 L300.36,257.84 L299.63,256.47 L298.91,255.12 L298.20,253.80 L297.53,252.55 L296.92,251.39 L296.37,250.34 L295.90,249.44 L295.53,248.68 L295.24,248.03 L295.02,247.49 L294.85,247.03 L294.71,246.65 L294.60,246.32 L294.48,246.03 L294.36,245.76 L294.20,245.49 L294.00,245.22 L293.76,244.95 L293.51,244.72 L293.25,244.53 L292.97,244.36 L292.69,244.22 L292.41,244.09 L292.13,243.99 L291.85,243.90 L291.57,243.83 L291.30,243.76 L291.03,243.70 L290.77,243.65 L290.50,243.61 L290.23,243.59 L289.97,243.59 L289.71,243.60 L289.45,243.64 L289.19,243.71 L288.94,243.80 L288.70,243.93 L288.46,244.07 L288.23,244.22 L288.01,244.39 L287.79,244.57 L287.57,244.79 L287.35,245.04 L287.14,245.35 L286.93,245.70 L286.71,246.12 L286.50,246.61 L286.29,247.14 L286.09,247.69 L285.89,248.26 L285.69,248.89 L285.49,249.57 L285.29,250.34 L285.09,251.20 L284.87,252.17 L284.64,253.27 L284.40,254.52 L284.14,255.94 L283.87,257.54 L283.59,259.29 L283.30,261.15 L283.01,263.10 L282.71,265.11 L282.40,267.14 L282.10,269.17 L281.80,271.17 L281.50,273.12 L281.20,275.04 L280.91,277.01 L280.61,279.01 L280.31,281.02 L280.01,283.03 L279.71,285.02 L279.41,286.98 L279.11,288.89 L278.80,290.74 L278.50,292.52 L278.19,294.25 L277.89,295.98 L277.58,297.69 L277.27,299.36 L276.96,300.98 L276.64,302.53 L276.33,304.00 L276.02,305.37 L275.71,306.63 L275.40,307.77 L275.09,308.76 L274.78,309.63 L274.46,310.37 L274.15,311.02 L273.83,311.60 L273.52,312.10 L273.21,312.56 L272.90,312.99 L272.60,313.41 L272.30,313.83 L272.01,314.23 L271.73,314.58 L271.46,314.89 L271.19,315.16 L270.93,315.40 L270.66,315.62 L270.38,315.81 L270.10,315.99 L269.81,316.15 L269.50,316.31 L269.24,316.46 L269.08,316.57 L268.97,316.67 L268.86,316.74 L268.72,316.80 L268.50,316.85 L268.16,316.89 L267.66,316.93 L266.95,316.96 L266.00,317.00 L264.69,317.04 L262.99,317.08 L261.02,317.11 L258.87,317.13 L256.63,317.15 L254.41,317.16 L252.31,317.17 L250.43,317.18 L248.86,317.19 L247.70,317.20 Z" fill="#f1c98c" fill-opacity="1.0" stroke="none"/>
<path d="M247.70,315.00 L248.60,314.99 L249.81,314.99 L251.26,314.98 L252.88,314.98 L254.60,314.97 L256.34,314.96 L258.02,314.95 L259.57,314.93 L260.92,314.92 L262.00,314.90 L262.82,314.89 L263.47,314.89 L263.98,314.91 L264.38,314.92 L264.69,314.93 L264.95,314.92 L265.18,314.89 L265.42,314.83 L265.68,314.74 L266.00,314.60 L266.35,314.43 L266.69,314.24 L267.02,314.03 L267.34,313.79 L267.66,313.52 L267.97,313.23 L268.27,312.90 L268.58,312.53 L268.89,312.13 L269.20,311.69 L269.51,311.24 L269.83,310.79 L270.14,310.33 L270.45,309.84 L270.76,309.31 L271.06,308.71 L271.37,308.04 L271.68,307.26 L271.99,306.37 L272.30,305.36 L272.61,304.20 L272.93,302.92 L273.26,301.54 L273.58,300.06 L273.90,298.50 L274.22,296.87 L274.53,295.18 L274.83,293.44 L275.12,291.67 L275.40,289.87 L275.66,288.02 L275.91,286.07 L276.15,284.05 L276.38,281.97 L276.60,279.85 L276.82,277.71 L277.04,275.57 L277.25,273.45 L277.47,271.37 L277.70,269.35 L277.93,267.36 L278.16,265.35 L278.40,263.36 L278.63,261.37 L278.87,259.40 L279.10,257.45 L279.33,255.54 L279.56,253.68 L279.78,251.86 L280.00,250.11 L280.21,248.40 L280.43,246.74 L280.64,245.11 L280.85,243.52 L281.05,241.98 L281.25,240.47 L281.45,239.01 L281.64,237.60 L281.82,236.23 L282.00,234.91 L282.17,233.65 L282.32,232.46 L282.47,231.32 L282.61,230.23 L282.75,229.18 L282.89,228.16 L283.03,227.17 L283.18,226.18 L283.33,225.21 L283.50,224.24 L283.68,223.25 L283.86,222.26 L284.05,221.26 L284.24,220.28 L284.44,219.33 L284.64,218.42 L284.85,217.55 L285.06,216.74 L285.28,216.01 L285.50,215.36 L285.73,214.77 L285.97,214.24 L286.21,213.75 L286.46,213.32 L286.72,212.95 L286.98,212.64 L287.23,212.40 L287.49,212.23 L287.75,212.14 L288.00,212.12 L288.25,212.18 L288.50,212.30 L288.75,212.49 L289.00,212.74 L289.25,213.07 L289.50,213.47 L289.75,213.96 L290.00,214.53 L290.25,215.19 L290.50,215.94 L290.75,216.82 L291.01,217.83 L291.26,218.94 L291.52,220.15 L291.78,221.43 L292.03,222.76 L292.28,224.12 L292.53,225.49 L292.77,226.86 L293.00,228.19 L293.22,229.50 L293.41,230.79 L293.59,232.09 L293.76,233.40 L293.93,234.74 L294.11,236.11 L294.31,237.54 L294.54,239.02 L294.80,240.57 L295.10,242.21 L295.45,243.98 L295.83,245.88 L296.25,247.89 L296.70,249.97 L297.16,252.08 L297.64,254.19 L298.11,256.26 L298.59,258.25 L299.05,260.12 L299.50,261.85 L299.93,263.45 L300.36,264.97 L300.79,266.41 L301.22,267.79 L301.65,269.11 L302.08,270.37 L302.51,271.59 L302.94,272.76 L303.37,273.89 L303.80,275.00 L304.23,276.05 L304.65,277.02 L305.07,277.94 L305.49,278.80 L305.91,279.63 L306.33,280.43 L306.77,281.23 L307.23,282.03 L307.70,282.85 L308.20,283.70 L308.72,284.58 L309.27,285.49 L309.84,286.40 L310.42,287.32 L311.01,288.23 L311.61,289.13 L312.22,290.00 L312.82,290.85 L313.41,291.65 L314.00,292.40 L314.58,293.11 L315.17,293.79 L315.76,294.44 L316.35,295.07 L316.94,295.66 L317.52,296.23 L318.10,296.76 L318.68,297.27 L319.24,297.75 L319.80,298.20 L320.33,298.61 L320.83,298.97 L321.32,299.29 L321.79,299.57 L322.26,299.84 L322.75,300.09 L323.25,300.33 L323.79,300.57 L324.37,300.83 L325.00,301.10 L325.68,301.39 L326.41,301.67 L327.17,301.96 L327.96,302.25 L328.78,302.54 L329.62,302.82 L330.46,303.10 L331.31,303.37 L332.16,303.64 L333.00,303.90 L333.88,304.16 L334.83,304.43 L335.83,304.70 L336.85,304.97 L337.85,305.22 L338.81,305.47 L339.71,305.69 L340.51,305.90 L341.18,306.07 L341.70,306.20 L341.70,307.40 L341.18,307.27 L340.51,307.10 L339.71,306.89 L338.81,306.67 L337.85,306.43 L336.85,306.17 L335.83,305.90 L334.83,305.63 L333.88,305.36 L333.00,305.10 L332.16,304.84 L331.31,304.57 L330.46,304.30 L329.62,304.02 L328.78,303.74 L327.96,303.45 L327.17,303.16 L326.41,302.87 L325.68,302.59 L325.00,302.30 L324.37,302.03 L323.79,301.77 L323.25,301.53 L322.75,301.29 L322.26,301.04 L321.79,300.77 L321.32,300.49 L320.83,300.17 L320.33,299.81 L319.80,299.40 L319.24,298.95 L318.68,298.47 L318.10,297.96 L317.52,297.43 L316.94,296.86 L316.35,296.27 L315.76,295.64 L315.17,294.99 L314.58,294.31 L314.00,293.60 L313.41,292.85 L312.82,292.05 L312.22,291.20 L311.61,290.33 L311.01,289.43 L310.42,288.52 L309.84,287.60 L309.27,286.69 L308.72,285.78 L308.20,284.90 L307.70,284.05 L307.23,283.23 L306.77,282.43 L306.33,281.63 L305.91,280.83 L305.49,280.00 L305.07,279.13 L304.65,278.22 L304.23,277.25 L303.80,276.20 L303.37,275.09 L302.94,273.95 L302.51,272.77 L302.08,271.55 L301.65,270.28 L301.22,268.96 L300.79,267.59 L300.36,266.16 L299.93,264.66 L299.50,263.10 L299.05,261.42 L298.59,259.61 L298.11,257.69 L297.64,255.70 L297.16,253.67 L296.70,251.65 L296.25,249.67 L295.83,247.76 L295.45,245.96 L295.10,244.30 L294.80,242.77 L294.54,241.33 L294.31,239.96 L294.11,238.65 L293.93,237.40 L293.76,236.19 L293.59,235.02 L293.41,233.87 L293.22,232.73 L293.00,231.60 L292.77,230.46 L292.53,229.30 L292.28,228.16 L292.03,227.04 L291.78,225.95 L291.52,224.92 L291.26,223.95 L291.01,223.06 L290.75,222.28 L290.50,221.60 L290.25,221.04 L290.00,220.57 L289.75,220.18 L289.50,219.88 L289.25,219.65 L289.00,219.48 L288.75,219.37 L288.50,219.31 L288.25,219.29 L288.00,219.30 L287.75,219.35 L287.49,219.45 L287.23,219.60 L286.98,219.80 L286.72,220.06 L286.46,220.36 L286.21,220.72 L285.97,221.13 L285.73,221.59 L285.50,222.10 L285.28,222.68 L285.06,223.33 L284.85,224.04 L284.64,224.81 L284.44,225.62 L284.24,226.47 L284.05,227.35 L283.86,228.26 L283.68,229.18 L283.50,230.10 L283.33,231.03 L283.18,231.96 L283.03,232.91 L282.89,233.88 L282.75,234.89 L282.61,235.93 L282.47,237.01 L282.32,238.15 L282.17,239.34 L282.00,240.60 L281.82,241.93 L281.64,243.32 L281.45,244.77 L281.25,246.26 L281.05,247.81 L280.85,249.39 L280.64,251.01 L280.43,252.65 L280.21,254.32 L280.00,256.00 L279.78,257.72 L279.56,259.49 L279.33,261.30 L279.10,263.14 L278.87,265.01 L278.63,266.89 L278.40,268.78 L278.16,270.67 L277.93,272.54 L277.70,274.40 L277.47,276.27 L277.25,278.17 L277.04,280.09 L276.82,282.01 L276.60,283.93 L276.38,285.83 L276.15,287.68 L275.91,289.49 L275.66,291.24 L275.40,292.90 L275.12,294.51 L274.83,296.10 L274.53,297.65 L274.22,299.17 L273.90,300.62 L273.58,302.02 L273.26,303.35 L272.93,304.59 L272.61,305.75 L272.30,306.80 L271.99,307.74 L271.68,308.57 L271.37,309.30 L271.06,309.96 L270.76,310.54 L270.45,311.06 L270.14,311.55 L269.83,312.01 L269.51,312.45 L269.20,312.90 L268.89,313.33 L268.58,313.73 L268.27,314.09 L267.97,314.42 L267.66,314.71 L267.34,314.98 L267.02,315.22 L266.69,315.44 L266.35,315.63 L266.00,315.80 L265.68,315.94 L265.42,316.03 L265.18,316.09 L264.95,316.12 L264.69,316.13 L264.38,316.12 L263.98,316.11 L263.47,316.09 L262.82,316.09 L262.00,316.10 L260.92,316.12 L259.57,316.13 L258.02,316.15 L256.34,316.16 L254.60,316.17 L252.88,316.18 L251.26,316.18 L249.81,316.19 L248.60,316.19 L247.70,316.20 Z" fill="#8b9cc4" fill-opacity="1.0" stroke="none"/>
<path d="M247.70,315.70 C250.75,315.67 262.37,315.65 266.00,315.50 C269.63,315.35 268.45,315.33 269.50,314.80 C270.55,314.27 271.32,313.73 272.30,312.30 C273.28,310.87 274.37,309.78 275.40,306.20 C276.43,302.62 277.48,296.70 278.50,290.80 C279.52,284.90 280.52,277.52 281.50,270.80 C282.48,264.08 283.57,255.55 284.40,250.50 C285.23,245.45 285.78,243.00 286.50,240.50 C287.22,238.00 287.90,236.58 288.70,235.50 C289.50,234.42 290.42,233.83 291.30,234.00 C292.18,234.17 293.23,235.13 294.00,236.50 C294.77,237.87 294.50,238.83 295.90,242.20 C297.30,245.57 300.35,252.35 302.40,256.70 C304.45,261.05 306.27,264.43 308.20,268.30 C310.13,272.17 312.07,276.52 314.00,279.90 C315.93,283.28 317.97,286.18 319.80,288.60 C321.63,291.02 322.80,292.45 325.00,294.40 C327.20,296.35 330.22,298.57 333.00,300.30 C335.78,302.03 340.25,304.05 341.70,304.80" fill="none" stroke="#e49b2b" stroke-width="1.5" stroke-linejoin="round" stroke-linecap="round"/>
<path d="M247.70,315.60 C250.08,315.58 258.95,315.57 262.00,315.50 C265.05,315.43 264.80,315.73 266.00,315.20 C267.20,314.67 268.15,313.80 269.20,312.30 C270.25,310.80 271.27,309.53 272.30,306.20 C273.33,302.87 274.50,297.70 275.40,292.30 C276.30,286.90 276.93,279.95 277.70,273.80 C278.47,267.65 279.28,261.03 280.00,255.40 C280.72,249.77 281.42,244.32 282.00,240.00 C282.58,235.68 282.92,232.58 283.50,229.50 C284.08,226.42 284.75,223.30 285.50,221.50 C286.25,219.70 287.17,218.78 288.00,218.70 C288.83,218.62 289.67,218.95 290.50,221.00 C291.33,223.05 292.23,227.22 293.00,231.00 C293.77,234.78 294.02,238.45 295.10,243.70 C296.18,248.95 298.05,257.18 299.50,262.50 C300.95,267.82 302.35,271.97 303.80,275.60 C305.25,279.23 306.50,281.40 308.20,284.30 C309.90,287.20 312.07,290.58 314.00,293.00 C315.93,295.42 317.97,297.35 319.80,298.80 C321.63,300.25 322.80,300.75 325.00,301.70 C327.20,302.65 330.22,303.65 333.00,304.50 C335.78,305.35 340.25,306.42 341.70,306.80" fill="none" stroke="#2d4b8e" stroke-width="1.5" stroke-linejoin="round" stroke-linecap="round"/>
<rect x="306.0" y="213.0" width="7.2" height="7.2" fill="#f0a632" stroke="#f4c98a" stroke-width="0.6"/>
<rect x="306.0" y="227.5" width="7.2" height="7.2" fill="#2c4a8a" stroke="#8a9ac0" stroke-width="0.6"/>
<text x="317.00" y="219.50" font-size="9" text-anchor="start" fill="#2a2a2a" stroke="#2a2a2a" font-weight="normal">IgM<tspan font-size="6.3" dy="-4.3">high</tspan></text>
<text x="317.00" y="234.00" font-size="9" text-anchor="start" fill="#2a2a2a" stroke="#2a2a2a" font-weight="normal">IgM<tspan font-size="6.3" dy="-4.3">low</tspan></text>
<line x1="409.00" y1="204.40" x2="409.00" y2="328.20" stroke="#2a2a2a" stroke-width="1.2"/>
<line x1="406.00" y1="328.20" x2="409.00" y2="328.20" stroke="#2a2a2a" stroke-width="1.2"/>
<text transform="translate(401.70,331.60) scale(0.92,1)" x="0" y="0" font-size="9.4" text-anchor="end" fill="#2a2a2a" stroke="#2a2a2a" font-weight="normal">100</text>
<line x1="406.00" y1="297.98" x2="409.00" y2="297.98" stroke="#2a2a2a" stroke-width="1.2"/>
<text transform="translate(401.70,301.38) scale(0.92,1)" x="0" y="0" font-size="9.4" text-anchor="end" fill="#2a2a2a" stroke="#2a2a2a" font-weight="normal">150</text>
<line x1="406.00" y1="267.75" x2="409.00" y2="267.75" stroke="#2a2a2a" stroke-width="1.2"/>
<text transform="translate(401.70,271.15) scale(0.92,1)" x="0" y="0" font-size="9.4" text-anchor="end" fill="#2a2a2a" stroke="#2a2a2a" font-weight="normal">200</text>
<line x1="406.00" y1="237.53" x2="409.00" y2="237.53" stroke="#2a2a2a" stroke-width="1.2"/>
<text transform="translate(401.70,240.93) scale(0.92,1)" x="0" y="0" font-size="9.4" text-anchor="end" fill="#2a2a2a" stroke="#2a2a2a" font-weight="normal">250</text>
<line x1="406.00" y1="207.30" x2="409.00" y2="207.30" stroke="#2a2a2a" stroke-width="1.2"/>
<text transform="translate(401.70,210.70) scale(0.92,1)" x="0" y="0" font-size="9.4" text-anchor="end" fill="#2a2a2a" stroke="#2a2a2a" font-weight="normal">300</text>
<rect x="423.50" y="249.01" width="25.30" height="79.19" fill="#c8c8dc"/>
<rect x="464.20" y="269.56" width="25.40" height="58.64" fill="#f5e3c8"/>
<line x1="408.40" y1="328.20" x2="508.50" y2="328.20" stroke="#2a2a2a" stroke-width="1.2"/>
<line x1="436.20" y1="328.20" x2="436.20" y2="331.40" stroke="#2a2a2a" stroke-width="1.0"/>
<line x1="476.90" y1="328.20" x2="476.90" y2="331.40" stroke="#2a2a2a" stroke-width="1.0"/>
<text x="436.20" y="343.00" font-size="9.6" text-anchor="middle" fill="#2a2a2a" stroke="#2a2a2a" font-weight="normal">IgM<tspan font-size="6.8" dy="-4.5">low</tspan></text>
<text x="476.90" y="343.00" font-size="9.6" text-anchor="middle" fill="#2a2a2a" stroke="#2a2a2a" font-weight="normal">IgM<tspan font-size="6.8" dy="-4.5">high</tspan></text>
<line x1="436.20" y1="245.10" x2="436.20" y2="252.50" stroke="#2a2a2a" stroke-width="1.2"/>
<line x1="429.70" y1="245.10" x2="442.70" y2="245.10" stroke="#2a2a2a" stroke-width="1.2"/>
<line x1="429.70" y1="252.50" x2="442.70" y2="252.50" stroke="#2a2a2a" stroke-width="1.2"/>
<line x1="476.90" y1="264.20" x2="476.90" y2="273.00" stroke="#2a2a2a" stroke-width="1.2"/>
<line x1="471.50" y1="264.20" x2="482.30" y2="264.20" stroke="#2a2a2a" stroke-width="1.2"/>
<line x1="471.50" y1="273.00" x2="482.30" y2="273.00" stroke="#2a2a2a" stroke-width="1.2"/>
<circle cx="436.20" cy="230.00" r="2.4" fill="#2f4e8c" stroke="#000" stroke-width="1.0"/>
<circle cx="436.20" cy="239.50" r="2.4" fill="#2f4e8c" stroke="#000" stroke-width="1.0"/>
<circle cx="430.50" cy="246.50" r="2.4" fill="#2f4e8c" stroke="#000" stroke-width="1.0"/>
<circle cx="424.90" cy="253.50" r="2.4" fill="#2f4e8c" stroke="#000" stroke-width="1.0"/>
<circle cx="430.50" cy="251.80" r="2.4" fill="#2f4e8c" stroke="#000" stroke-width="1.0"/>
<circle cx="436.20" cy="253.10" r="2.4" fill="#2f4e8c" stroke="#000" stroke-width="1.0"/>
<circle cx="441.50" cy="252.00" r="2.4" fill="#2f4e8c" stroke="#000" stroke-width="1.0"/>
<circle cx="447.40" cy="250.00" r="2.4" fill="#2f4e8c" stroke="#000" stroke-width="1.0"/>
<circle cx="447.40" cy="256.20" r="2.4" fill="#2f4e8c" stroke="#000" stroke-width="1.0"/>
<circle cx="476.60" cy="234.30" r="2.4" fill="#f2a21f" stroke="#000" stroke-width="1.0"/>
<circle cx="476.60" cy="245.70" r="2.4" fill="#f2a21f" stroke="#000" stroke-width="1.0"/>
<circle cx="472.00" cy="257.20" r="2.4" fill="#f2a21f" stroke="#000" stroke-width="1.0"/>
<circle cx="481.50" cy="256.60" r="2.4" fill="#f2a21f" stroke="#000" stroke-width="1.0"/>
<circle cx="472.00" cy="263.10" r="2.4" fill="#f2a21f" stroke="#000" stroke-width="1.0"/>
<circle cx="472.00" cy="268.20" r="2.4" fill="#f2a21f" stroke="#000" stroke-width="1.0"/>
<circle cx="481.50" cy="266.20" r="2.4" fill="#f2a21f" stroke="#000" stroke-width="1.0"/>
<circle cx="481.50" cy="273.40" r="2.4" fill="#f2a21f" stroke="#000" stroke-width="1.0"/>
<circle cx="472.00" cy="276.90" r="2.4" fill="#f2a21f" stroke="#000" stroke-width="1.0"/>
<circle cx="481.50" cy="281.50" r="2.4" fill="#f2a21f" stroke="#000" stroke-width="1.0"/>
<circle cx="472.00" cy="286.20" r="2.4" fill="#f2a21f" stroke="#000" stroke-width="1.0"/>
<circle cx="481.50" cy="287.40" r="2.4" fill="#f2a21f" stroke="#000" stroke-width="1.0"/>
<circle cx="476.60" cy="295.80" r="2.4" fill="#f2a21f" stroke="#000" stroke-width="1.0"/>
<path d="M436,223.7 L436,218.3 L476.9,218.3 L476.9,231.2" fill="none" stroke="#2a2a2a" stroke-width="1.05"/>
<text x="456.50" y="218.50" font-size="9.5" text-anchor="middle" fill="#2a2a2a" stroke="#2a2a2a" font-weight="normal">**</text>
<text transform="translate(381.60,265.60) rotate(-90)" x="0" y="0" font-size="10" text-anchor="middle" fill="#2a2a2a" stroke="#2a2a2a" textLength="64" lengthAdjust="spacingAndGlyphs">Peakheight [nM]</text>
<line x1="68.30" y1="389.20" x2="68.30" y2="512.90" stroke="#2a2a2a" stroke-width="1.2"/>
<line x1="65.30" y1="512.90" x2="68.30" y2="512.90" stroke="#2a2a2a" stroke-width="1.2"/>
<text transform="translate(61.20,516.30) scale(0.92,1)" x="0" y="0" font-size="9.4" text-anchor="end" fill="#2a2a2a" stroke="#2a2a2a" font-weight="normal">0</text>
<line x1="65.30" y1="488.74" x2="68.30" y2="488.74" stroke="#2a2a2a" stroke-width="1.2"/>
<text transform="translate(61.20,492.14) scale(0.92,1)" x="0" y="0" font-size="9.4" text-anchor="end" fill="#2a2a2a" stroke="#2a2a2a" font-weight="normal">20</text>
<line x1="65.30" y1="464.58" x2="68.30" y2="464.58" stroke="#2a2a2a" stroke-width="1.2"/>
<text transform="translate(61.20,467.98) scale(0.92,1)" x="0" y="0" font-size="9.4" text-anchor="end" fill="#2a2a2a" stroke="#2a2a2a" font-weight="normal">40</text>
<line x1="65.30" y1="440.42" x2="68.30" y2="440.42" stroke="#2a2a2a" stroke-width="1.2"/>
<text transform="translate(61.20,443.82) scale(0.92,1)" x="0" y="0" font-size="9.4" text-anchor="end" fill="#2a2a2a" stroke="#2a2a2a" font-weight="normal">60</text>
<line x1="65.30" y1="416.26" x2="68.30" y2="416.26" stroke="#2a2a2a" stroke-width="1.2"/>
<text transform="translate(61.20,419.66) scale(0.92,1)" x="0" y="0" font-size="9.4" text-anchor="end" fill="#2a2a2a" stroke="#2a2a2a" font-weight="normal">80</text>
<line x1="65.30" y1="392.10" x2="68.30" y2="392.10" stroke="#2a2a2a" stroke-width="1.2"/>
<text transform="translate(61.20,395.50) scale(0.92,1)" x="0" y="0" font-size="9.4" text-anchor="end" fill="#2a2a2a" stroke="#2a2a2a" font-weight="normal">100</text>
<rect x="82.50" y="487.00" width="25.40" height="25.90" fill="#ecd3cc"/>
<rect x="123.30" y="454.80" width="25.00" height="58.10" fill="#d3c5dd"/>
<line x1="67.70" y1="512.90" x2="163.70" y2="512.90" stroke="#2a2a2a" stroke-width="1.2"/>
<line x1="95.20" y1="512.90" x2="95.20" y2="516.10" stroke="#2a2a2a" stroke-width="1.0"/>
<line x1="135.80" y1="512.90" x2="135.80" y2="516.10" stroke="#2a2a2a" stroke-width="1.0"/>
<text x="95.20" y="527.20" font-size="9" text-anchor="middle" fill="#2a2a2a" stroke="#2a2a2a" font-weight="normal">WT</text>
<text x="135.80" y="527.20" font-size="9" text-anchor="middle" fill="#2a2a2a" stroke="#2a2a2a" font-weight="normal">Siglec-G<tspan font-size="6.3" dy="-4.3">-/-</tspan></text>
<line x1="95.20" y1="480.20" x2="95.20" y2="492.70" stroke="#2a2a2a" stroke-width="1.2"/>
<line x1="88.80" y1="480.20" x2="101.60" y2="480.20" stroke="#2a2a2a" stroke-width="1.2"/>
<line x1="88.80" y1="492.70" x2="101.60" y2="492.70" stroke="#2a2a2a" stroke-width="1.2"/>
<line x1="138.60" y1="447.30" x2="138.60" y2="459.80" stroke="#2a2a2a" stroke-width="1.2"/>
<line x1="134.80" y1="447.30" x2="142.40" y2="447.30" stroke="#2a2a2a" stroke-width="1.2"/>
<line x1="134.80" y1="459.80" x2="142.40" y2="459.80" stroke="#2a2a2a" stroke-width="1.2"/>
<circle cx="95.00" cy="414.60" r="2.4" fill="#b3102b" stroke="#000" stroke-width="1.0"/>
<circle cx="95.00" cy="454.80" r="2.4" fill="#b3102b" stroke="#000" stroke-width="1.0"/>
<circle cx="95.00" cy="464.60" r="2.4" fill="#b3102b" stroke="#000" stroke-width="1.0"/>
<circle cx="89.30" cy="484.70" r="2.4" fill="#b3102b" stroke="#000" stroke-width="1.0"/>
<circle cx="95.00" cy="485.60" r="2.4" fill="#b3102b" stroke="#000" stroke-width="1.0"/>
<circle cx="83.80" cy="491.40" r="2.4" fill="#b3102b" stroke="#000" stroke-width="1.0"/>
<circle cx="89.30" cy="493.50" r="2.4" fill="#b3102b" stroke="#000" stroke-width="1.0"/>
<circle cx="95.00" cy="494.80" r="2.4" fill="#b3102b" stroke="#000" stroke-width="1.0"/>
<circle cx="106.50" cy="493.70" r="2.4" fill="#b3102b" stroke="#000" stroke-width="1.0"/>
<circle cx="83.80" cy="500.00" r="2.4" fill="#b3102b" stroke="#000" stroke-width="1.0"/>
<circle cx="95.00" cy="500.30" r="2.4" fill="#b3102b" stroke="#000" stroke-width="1.0"/>
<circle cx="89.30" cy="503.10" r="2.4" fill="#b3102b" stroke="#000" stroke-width="1.0"/>
<circle cx="100.80" cy="503.90" r="2.4" fill="#b3102b" stroke="#000" stroke-width="1.0"/>
<circle cx="106.50" cy="502.90" r="2.4" fill="#b3102b" stroke="#000" stroke-width="1.0"/>
<circle cx="95.00" cy="508.80" r="2.4" fill="#b3102b" stroke="#000" stroke-width="1.0"/>
<circle cx="124.60" cy="409.80" r="2.4" fill="#4f1f70" stroke="#000" stroke-width="1.0"/>
<circle cx="131.90" cy="414.60" r="2.4" fill="#4f1f70" stroke="#000" stroke-width="1.0"/>
<circle cx="146.90" cy="411.70" r="2.4" fill="#4f1f70" stroke="#000" stroke-width="1.0"/>
<circle cx="135.80" cy="428.50" r="2.4" fill="#4f1f70" stroke="#000" stroke-width="1.0"/>
<circle cx="139.60" cy="435.40" r="2.4" fill="#4f1f70" stroke="#000" stroke-width="1.0"/>
<circle cx="131.90" cy="438.10" r="2.4" fill="#4f1f70" stroke="#000" stroke-width="1.0"/>
<circle cx="124.60" cy="448.30" r="2.4" fill="#4f1f70" stroke="#000" stroke-width="1.0"/>
<circle cx="131.90" cy="446.90" r="2.4" fill="#4f1f70" stroke="#000" stroke-width="1.0"/>
<circle cx="146.90" cy="446.30" r="2.4" fill="#4f1f70" stroke="#000" stroke-width="1.0"/>
<circle cx="139.60" cy="450.80" r="2.4" fill="#4f1f70" stroke="#000" stroke-width="1.0"/>
<circle cx="131.90" cy="458.90" r="2.4" fill="#4f1f70" stroke="#000" stroke-width="1.0"/>
<circle cx="139.60" cy="457.50" r="2.4" fill="#4f1f70" stroke="#000" stroke-width="1.0"/>
<circle cx="135.80" cy="473.70" r="2.4" fill="#4f1f70" stroke="#000" stroke-width="1.0"/>
<circle cx="139.60" cy="481.80" r="2.4" fill="#4f1f70" stroke="#000" stroke-width="1.0"/>
<circle cx="131.90" cy="486.00" r="2.4" fill="#4f1f70" stroke="#000" stroke-width="1.0"/>
<circle cx="139.60" cy="487.20" r="2.4" fill="#4f1f70" stroke="#000" stroke-width="1.0"/>
<circle cx="146.90" cy="483.70" r="2.4" fill="#4f1f70" stroke="#000" stroke-width="1.0"/>
<circle cx="135.80" cy="503.50" r="2.4" fill="#4f1f70" stroke="#000" stroke-width="1.0"/>
<path d="M95,402.1 L95,396.2 L131.5,396.2 L131.5,402.1" fill="none" stroke="#2a2a2a" stroke-width="1.05"/>
<text x="113.30" y="397.00" font-size="9.5" text-anchor="middle" fill="#2a2a2a" stroke="#2a2a2a" font-weight="normal">***</text>
<text transform="translate(39.50,450.60) rotate(-90)" x="0" y="0" font-size="10" text-anchor="middle" fill="#2a2a2a" stroke="#2a2a2a" textLength="79.5" lengthAdjust="spacingAndGlyphs">IgM<tspan font-size="6.5" dy="-3">+</tspan><tspan dy="3">MVs of total (%)</tspan></text>
<line x1="236.20" y1="388.30" x2="236.20" y2="513.10" stroke="#2a2a2a" stroke-width="1.2"/>
<line x1="233.20" y1="501.00" x2="236.20" y2="501.00" stroke="#2a2a2a" stroke-width="1.2"/>
<text transform="translate(229.60,504.40) scale(0.92,1)" x="0" y="0" font-size="9.4" text-anchor="end" fill="#2a2a2a" stroke="#2a2a2a" font-weight="normal">0</text>
<line x1="233.20" y1="474.02" x2="236.20" y2="474.02" stroke="#2a2a2a" stroke-width="1.2"/>
<text transform="translate(229.60,477.42) scale(0.92,1)" x="0" y="0" font-size="9.4" text-anchor="end" fill="#2a2a2a" stroke="#2a2a2a" font-weight="normal">5</text>
<line x1="233.20" y1="447.05" x2="236.20" y2="447.05" stroke="#2a2a2a" stroke-width="1.2"/>
<text transform="translate(229.60,450.45) scale(0.92,1)" x="0" y="0" font-size="9.4" text-anchor="end" fill="#2a2a2a" stroke="#2a2a2a" font-weight="normal">10</text>
<line x1="233.20" y1="420.08" x2="236.20" y2="420.08" stroke="#2a2a2a" stroke-width="1.2"/>
<text transform="translate(229.60,423.48) scale(0.92,1)" x="0" y="0" font-size="9.4" text-anchor="end" fill="#2a2a2a" stroke="#2a2a2a" font-weight="normal">15</text>
<line x1="233.20" y1="393.10" x2="236.20" y2="393.10" stroke="#2a2a2a" stroke-width="1.2"/>
<text transform="translate(229.60,396.50) scale(0.92,1)" x="0" y="0" font-size="9.4" text-anchor="end" fill="#2a2a2a" stroke="#2a2a2a" font-weight="normal">20</text>
<line x1="235.60" y1="513.10" x2="359.00" y2="513.10" stroke="#2a2a2a" stroke-width="1.2"/>
<line x1="247.90" y1="513.10" x2="247.90" y2="516.30" stroke="#2a2a2a" stroke-width="1.0"/>
<text transform="translate(247.90,527.20) scale(0.92,1)" x="0" y="0" font-size="9.4" text-anchor="middle" fill="#2a2a2a" stroke="#2a2a2a" font-weight="normal">0</text>
<line x1="269.65" y1="513.10" x2="269.65" y2="516.30" stroke="#2a2a2a" stroke-width="1.0"/>
<text transform="translate(269.65,527.20) scale(0.92,1)" x="0" y="0" font-size="9.4" text-anchor="middle" fill="#2a2a2a" stroke="#2a2a2a" font-weight="normal">10</text>
<line x1="291.40" y1="513.10" x2="291.40" y2="516.30" stroke="#2a2a2a" stroke-width="1.0"/>
<text transform="translate(291.40,527.20) scale(0.92,1)" x="0" y="0" font-size="9.4" text-anchor="middle" fill="#2a2a2a" stroke="#2a2a2a" font-weight="normal">20</text>
<line x1="313.15" y1="513.10" x2="313.15" y2="516.30" stroke="#2a2a2a" stroke-width="1.0"/>
<text transform="translate(313.15,527.20) scale(0.92,1)" x="0" y="0" font-size="9.4" text-anchor="middle" fill="#2a2a2a" stroke="#2a2a2a" font-weight="normal">30</text>
<line x1="334.90" y1="513.10" x2="334.90" y2="516.30" stroke="#2a2a2a" stroke-width="1.0"/>
<text transform="translate(334.90,527.20) scale(0.92,1)" x="0" y="0" font-size="9.4" text-anchor="middle" fill="#2a2a2a" stroke="#2a2a2a" font-weight="normal">40</text>
<line x1="356.65" y1="513.10" x2="356.65" y2="516.30" stroke="#2a2a2a" stroke-width="1.0"/>
<text transform="translate(356.65,527.20) scale(0.92,1)" x="0" y="0" font-size="9.4" text-anchor="middle" fill="#2a2a2a" stroke="#2a2a2a" font-weight="normal">50</text>
<text x="302.30" y="541.50" font-size="10" text-anchor="middle" fill="#2a2a2a" stroke="#2a2a2a" font-weight="normal" textLength="30.8" lengthAdjust="spacingAndGlyphs">Minutes</text>
<text transform="translate(212.50,446.00) rotate(-90)" x="0" y="0" font-size="10" text-anchor="middle" fill="#2a2a2a" stroke="#2a2a2a" textLength="58" lengthAdjust="spacingAndGlyphs">Thrombin [nM]</text>
<path d="M261.00,485.50 L261.23,485.19 L261.51,484.81 L261.84,484.37 L262.22,483.87 L262.62,483.32 L263.06,482.73 L263.53,482.08 L264.01,481.39 L264.50,480.66 L265.00,479.90 L265.53,479.08 L266.10,478.18 L266.72,477.22 L267.35,476.21 L268.00,475.17 L268.65,474.10 L269.28,473.03 L269.90,471.96 L270.47,470.92 L271.00,469.90 L271.48,468.89 L271.93,467.85 L272.35,466.80 L272.74,465.75 L273.12,464.70 L273.50,463.67 L273.86,462.68 L274.23,461.73 L274.61,460.83 L275.00,460.00 L275.39,459.24 L275.77,458.53 L276.14,457.87 L276.51,457.25 L276.88,456.66 L277.26,456.10 L277.66,455.57 L278.08,455.04 L278.52,454.52 L279.00,454.00 L279.52,453.49 L280.07,453.02 L280.66,452.57 L281.27,452.14 L281.89,451.72 L282.51,451.30 L283.14,450.88 L283.75,450.44 L284.34,449.98 L284.90,449.50 L285.44,448.99 L285.96,448.46 L286.46,447.91 L286.96,447.35 L287.45,446.78 L287.94,446.21 L288.42,445.64 L288.91,445.08 L289.40,444.53 L289.90,444.00 L290.41,443.47 L290.92,442.94 L291.44,442.41 L291.97,441.88 L292.49,441.36 L293.01,440.85 L293.52,440.35 L294.02,439.88 L294.52,439.42 L295.00,439.00 L295.45,438.60 L295.87,438.23 L296.26,437.87 L296.64,437.54 L297.02,437.22 L297.42,436.91 L297.84,436.62 L298.31,436.34 L298.82,436.07 L299.40,435.80 L300.06,435.54 L300.79,435.30 L301.58,435.06 L302.41,434.84 L303.26,434.63 L304.12,434.42 L304.97,434.23 L305.80,434.04 L306.58,433.87 L307.30,433.70 L307.97,433.53 L308.60,433.34 L309.20,433.14 L309.78,432.96 L310.34,432.79 L310.89,432.64 L311.43,432.53 L311.98,432.46 L312.53,432.45 L313.10,432.50 L313.67,432.63 L314.24,432.85 L314.81,433.14 L315.38,433.48 L315.95,433.84 L316.52,434.21 L317.09,434.57 L317.66,434.90 L318.23,435.18 L318.80,435.40 L319.38,435.55 L319.97,435.64 L320.57,435.70 L321.17,435.72 L321.77,435.74 L322.36,435.75 L322.95,435.77 L323.52,435.81 L324.07,435.88 L324.60,436.00 L325.11,436.18 L325.60,436.40 L326.07,436.66 L326.53,436.95 L326.98,437.24 L327.42,437.52 L327.86,437.78 L328.30,438.01 L328.75,438.19 L329.20,438.30 L329.66,438.33 L330.12,438.28 L330.58,438.17 L331.04,438.02 L331.49,437.85 L331.95,437.69 L332.41,437.55 L332.87,437.46 L333.34,437.44 L333.80,437.50 L334.27,437.66 L334.74,437.88 L335.21,438.17 L335.68,438.50 L336.15,438.86 L336.62,439.23 L337.09,439.61 L337.56,439.97 L338.03,440.30 L338.50,440.60 L338.98,440.87 L339.50,441.15 L340.03,441.42 L340.57,441.69 L341.09,441.94 L341.60,442.18 L342.06,442.40 L342.48,442.60 L342.83,442.77 L343.10,442.90 L343.10,451.50 L342.83,451.37 L342.48,451.20 L342.06,451.00 L341.60,450.77 L341.09,450.53 L340.57,450.27 L340.03,450.01 L339.50,449.74 L338.98,449.46 L338.50,449.20 L338.03,448.92 L337.56,448.59 L337.09,448.24 L336.62,447.89 L336.15,447.53 L335.68,447.19 L335.21,446.89 L334.74,446.63 L334.27,446.43 L333.80,446.30 L333.34,446.27 L332.87,446.33 L332.41,446.47 L331.95,446.65 L331.49,446.86 L331.04,447.08 L330.58,447.27 L330.12,447.42 L329.66,447.50 L329.20,447.50 L328.75,447.41 L328.30,447.25 L327.86,447.03 L327.42,446.78 L326.98,446.50 L326.53,446.21 L326.07,445.92 L325.60,445.65 L325.11,445.40 L324.60,445.20 L324.07,445.04 L323.52,444.91 L322.95,444.79 L322.36,444.69 L321.77,444.60 L321.17,444.51 L320.57,444.41 L319.97,444.29 L319.38,444.16 L318.80,444.00 L318.23,443.79 L317.66,443.53 L317.09,443.23 L316.52,442.91 L315.95,442.59 L315.38,442.30 L314.81,442.04 L314.24,441.84 L313.67,441.72 L313.10,441.70 L312.52,441.78 L311.95,441.94 L311.37,442.17 L310.79,442.46 L310.21,442.79 L309.62,443.15 L309.04,443.52 L308.46,443.90 L307.88,444.26 L307.30,444.60 L306.72,444.92 L306.15,445.26 L305.58,445.59 L305.01,445.94 L304.44,446.29 L303.87,446.64 L303.29,447.00 L302.70,447.36 L302.11,447.73 L301.50,448.10 L300.87,448.47 L300.22,448.84 L299.55,449.21 L298.88,449.58 L298.20,449.96 L297.53,450.34 L296.86,450.74 L296.22,451.14 L295.59,451.56 L295.00,452.00 L294.44,452.45 L293.91,452.90 L293.39,453.36 L292.90,453.83 L292.41,454.31 L291.94,454.81 L291.46,455.33 L290.98,455.86 L290.50,456.42 L290.00,457.00 L289.49,457.62 L288.98,458.29 L288.47,458.99 L287.96,459.71 L287.45,460.45 L286.94,461.19 L286.43,461.91 L285.92,462.61 L285.41,463.28 L284.90,463.90 L284.40,464.48 L283.89,465.04 L283.39,465.57 L282.89,466.08 L282.39,466.58 L281.89,467.06 L281.39,467.53 L280.89,467.99 L280.40,468.45 L279.90,468.90 L279.41,469.33 L278.92,469.72 L278.43,470.08 L277.94,470.43 L277.45,470.77 L276.96,471.13 L276.47,471.51 L275.98,471.92 L275.49,472.38 L275.00,472.90 L274.51,473.49 L274.02,474.15 L273.54,474.86 L273.06,475.60 L272.57,476.37 L272.08,477.14 L271.58,477.89 L271.07,478.61 L270.54,479.29 L270.00,479.90 L269.43,480.46 L268.82,480.99 L268.18,481.50 L267.53,481.98 L266.88,482.44 L266.23,482.87 L265.61,483.28 L265.02,483.67 L264.48,484.05 L264.00,484.40 L263.56,484.74 L263.16,485.05 L262.79,485.35 L262.44,485.63 L262.12,485.88 L261.84,486.11 L261.58,486.32 L261.36,486.51 L261.16,486.67 L261.00,486.80 Z" fill="#8b6ba0" fill-opacity="1.0" stroke="none"/>
<path d="M252.70,485.50 L252.82,485.25 L252.95,484.96 L253.10,484.63 L253.28,484.25 L253.47,483.82 L253.70,483.35 L253.97,482.82 L254.27,482.24 L254.61,481.60 L255.00,480.90 L255.46,480.12 L256.00,479.26 L256.59,478.33 L257.23,477.33 L257.89,476.29 L258.57,475.22 L259.23,474.14 L259.87,473.04 L260.46,471.96 L261.00,470.90 L261.49,469.84 L261.94,468.76 L262.38,467.67 L262.79,466.56 L263.19,465.45 L263.57,464.34 L263.94,463.23 L264.30,462.14 L264.65,461.06 L265.00,460.00 L265.34,458.96 L265.66,457.94 L265.97,456.93 L266.27,455.94 L266.56,454.94 L266.85,453.96 L267.13,452.97 L267.42,451.99 L267.70,451.00 L268.00,450.00 L268.31,448.98 L268.62,447.94 L268.95,446.89 L269.27,445.83 L269.59,444.78 L269.91,443.75 L270.21,442.74 L270.50,441.78 L270.76,440.86 L271.00,440.00 L271.20,439.24 L271.35,438.58 L271.48,438.00 L271.58,437.46 L271.68,436.94 L271.78,436.41 L271.90,435.82 L272.05,435.17 L272.25,434.40 L272.50,433.50 L272.81,432.44 L273.16,431.25 L273.55,429.96 L273.97,428.59 L274.41,427.17 L274.86,425.73 L275.33,424.31 L275.79,422.93 L276.25,421.61 L276.70,420.40 L277.14,419.26 L277.58,418.14 L278.03,417.06 L278.47,416.00 L278.92,414.98 L279.38,413.98 L279.85,413.03 L280.32,412.11 L280.81,411.24 L281.30,410.40 L281.82,409.60 L282.36,408.84 L282.93,408.11 L283.50,407.42 L284.08,406.76 L284.65,406.15 L285.21,405.57 L285.74,405.04 L286.24,404.55 L286.70,404.10 L287.11,403.71 L287.49,403.37 L287.84,403.09 L288.16,402.85 L288.47,402.64 L288.77,402.47 L289.06,402.31 L289.36,402.17 L289.67,402.04 L290.00,401.90 L290.33,401.76 L290.65,401.62 L290.97,401.49 L291.28,401.38 L291.60,401.28 L291.93,401.21 L292.28,401.17 L292.66,401.17 L293.06,401.21 L293.50,401.30 L293.99,401.46 L294.53,401.69 L295.12,401.99 L295.73,402.32 L296.35,402.67 L296.97,403.04 L297.58,403.39 L298.17,403.71 L298.71,403.99 L299.20,404.20 L299.63,404.34 L300.02,404.40 L300.38,404.42 L300.71,404.41 L301.02,404.39 L301.33,404.38 L301.64,404.40 L301.96,404.46 L302.32,404.59 L302.70,404.80 L303.11,405.13 L303.53,405.56 L303.96,406.08 L304.40,406.65 L304.86,407.24 L305.32,407.82 L305.80,408.36 L306.29,408.82 L306.79,409.18 L307.30,409.40 L307.83,409.45 L308.37,409.34 L308.92,409.10 L309.48,408.79 L310.06,408.44 L310.64,408.11 L311.24,407.82 L311.85,407.63 L312.47,407.57 L313.10,407.70 L313.76,408.03 L314.45,408.53 L315.16,409.16 L315.89,409.89 L316.63,410.67 L317.35,411.46 L318.06,412.23 L318.75,412.94 L319.40,413.54 L320.00,414.00 L320.55,414.32 L321.07,414.53 L321.55,414.66 L322.01,414.74 L322.44,414.77 L322.87,414.80 L323.29,414.83 L323.72,414.89 L324.15,415.01 L324.60,415.20 L325.06,415.48 L325.53,415.82 L326.00,416.21 L326.46,416.63 L326.93,417.06 L327.40,417.48 L327.86,417.88 L328.31,418.23 L328.76,418.51 L329.20,418.70 L329.63,418.78 L330.03,418.76 L330.43,418.66 L330.82,418.51 L331.21,418.33 L331.60,418.16 L332.00,418.03 L332.42,417.95 L332.85,417.97 L333.30,418.10 L333.78,418.36 L334.28,418.71 L334.80,419.15 L335.33,419.65 L335.87,420.18 L336.41,420.73 L336.95,421.28 L337.48,421.81 L338.00,422.29 L338.50,422.70 L339.00,423.07 L339.53,423.44 L340.07,423.79 L340.60,424.12 L341.12,424.44 L341.62,424.73 L342.08,425.00 L342.48,425.23 L342.83,425.44 L343.10,425.60 L343.10,434.80 L342.83,434.67 L342.48,434.51 L342.06,434.32 L341.60,434.11 L341.09,433.88 L340.57,433.63 L340.03,433.37 L339.50,433.09 L338.98,432.80 L338.50,432.50 L338.03,432.17 L337.56,431.80 L337.09,431.39 L336.62,430.96 L336.15,430.52 L335.68,430.10 L335.21,429.70 L334.74,429.34 L334.27,429.04 L333.80,428.80 L333.34,428.64 L332.87,428.55 L332.41,428.51 L331.95,428.52 L331.49,428.54 L331.04,428.58 L330.58,428.61 L330.12,428.61 L329.66,428.58 L329.20,428.50 L328.74,428.37 L328.28,428.20 L327.82,428.01 L327.36,427.80 L326.90,427.57 L326.44,427.35 L325.98,427.12 L325.52,426.90 L325.06,426.69 L324.60,426.50 L324.15,426.34 L323.72,426.21 L323.29,426.09 L322.87,425.98 L322.44,425.88 L322.01,425.76 L321.55,425.62 L321.07,425.45 L320.55,425.25 L320.00,425.00 L319.39,424.68 L318.73,424.27 L318.03,423.80 L317.30,423.31 L316.55,422.80 L315.80,422.31 L315.07,421.86 L314.37,421.48 L313.71,421.18 L313.10,421.00 L312.55,420.97 L312.05,421.08 L311.59,421.29 L311.15,421.57 L310.73,421.89 L310.32,422.20 L309.90,422.47 L309.46,422.67 L309.00,422.76 L308.50,422.70 L307.97,422.47 L307.42,422.09 L306.85,421.60 L306.27,421.04 L305.68,420.44 L305.08,419.83 L304.48,419.26 L303.88,418.76 L303.29,418.36 L302.70,418.10 L302.12,417.98 L301.55,417.97 L300.99,418.04 L300.42,418.17 L299.85,418.34 L299.28,418.54 L298.70,418.75 L298.11,418.94 L297.51,419.10 L296.90,419.20 L296.27,419.24 L295.61,419.24 L294.94,419.22 L294.26,419.18 L293.57,419.14 L292.89,419.12 L292.22,419.13 L291.56,419.18 L290.92,419.30 L290.30,419.50 L289.70,419.76 L289.12,420.08 L288.54,420.43 L287.98,420.83 L287.43,421.27 L286.89,421.75 L286.37,422.26 L285.86,422.81 L285.37,423.39 L284.90,424.00 L284.45,424.66 L284.02,425.38 L283.61,426.14 L283.22,426.95 L282.84,427.78 L282.47,428.63 L282.10,429.49 L281.74,430.34 L281.37,431.18 L281.00,432.00 L280.62,432.81 L280.25,433.65 L279.88,434.49 L279.50,435.34 L279.14,436.19 L278.78,437.02 L278.42,437.82 L278.07,438.59 L277.73,439.32 L277.40,440.00 L277.08,440.60 L276.78,441.11 L276.50,441.56 L276.22,441.98 L275.94,442.38 L275.67,442.78 L275.39,443.23 L275.11,443.73 L274.81,444.31 L274.50,445.00 L274.17,445.80 L273.83,446.68 L273.48,447.64 L273.12,448.64 L272.76,449.69 L272.39,450.77 L272.03,451.85 L271.68,452.93 L271.33,453.98 L271.00,455.00 L270.68,455.98 L270.37,456.95 L270.06,457.91 L269.76,458.87 L269.47,459.82 L269.18,460.79 L268.88,461.78 L268.59,462.79 L268.30,463.83 L268.00,464.90 L267.70,466.04 L267.40,467.26 L267.10,468.53 L266.80,469.84 L266.50,471.14 L266.20,472.43 L265.90,473.67 L265.60,474.85 L265.30,475.93 L265.00,476.90 L264.70,477.76 L264.42,478.55 L264.13,479.26 L263.85,479.92 L263.56,480.52 L263.27,481.07 L262.97,481.58 L262.66,482.05 L262.34,482.48 L262.00,482.90 L261.65,483.27 L261.28,483.57 L260.91,483.83 L260.53,484.04 L260.14,484.21 L259.74,484.37 L259.33,484.51 L258.90,484.66 L258.46,484.82 L258.00,485.00 L257.50,485.20 L256.94,485.41 L256.34,485.62 L255.72,485.83 L255.10,486.03 L254.50,486.22 L253.94,486.40 L253.44,486.56 L253.02,486.69 L252.70,486.80 Z" fill="#c5506e" fill-opacity="1.0" stroke="none"/>
<path d="M248.00,488.70 C248.78,488.45 251.45,487.60 252.70,487.20 C253.95,486.80 254.12,486.48 255.50,486.30 C256.88,486.12 259.42,486.83 261.00,486.10 C262.58,485.37 263.67,483.60 265.00,481.90 C266.33,480.20 267.67,477.90 269.00,475.90 C270.33,473.90 271.68,471.98 273.00,469.90 C274.32,467.82 275.58,465.05 276.90,463.40 C278.22,461.75 279.57,461.23 280.90,460.00 C282.23,458.77 283.40,457.67 284.90,456.00 C286.40,454.33 288.23,451.75 289.90,450.00 C291.57,448.25 292.97,446.88 294.90,445.50 C296.83,444.12 299.43,442.72 301.50,441.70 C303.57,440.68 305.37,440.17 307.30,439.40 C309.23,438.63 311.18,437.00 313.10,437.10 C315.02,437.20 316.88,439.42 318.80,440.00 C320.72,440.58 322.87,440.18 324.60,440.60 C326.33,441.02 327.67,442.32 329.20,442.50 C330.73,442.68 332.25,441.25 333.80,441.70 C335.35,442.15 336.95,444.23 338.50,445.20 C340.05,446.17 342.33,447.12 343.10,447.50" fill="none" stroke="#4c1c68" stroke-width="1.3" stroke-linejoin="round" stroke-linecap="round"/>
<path d="M248.30,479.40 C248.55,480.08 249.07,482.38 249.80,483.50 C250.53,484.62 251.67,486.20 252.70,486.10 C253.73,486.00 254.62,484.27 256.00,482.90 C257.38,481.53 259.50,480.07 261.00,477.90 C262.50,475.73 263.83,472.88 265.00,469.90 C266.17,466.92 267.08,463.32 268.00,460.00 C268.92,456.68 269.67,453.33 270.50,450.00 C271.33,446.67 272.12,443.58 273.00,440.00 C273.88,436.42 274.88,431.58 275.80,428.50 C276.72,425.42 277.58,423.37 278.50,421.50 C279.42,419.63 279.93,418.80 281.30,417.30 C282.67,415.80 285.08,413.58 286.70,412.50 C288.32,411.42 289.68,410.88 291.00,410.80 C292.32,410.72 293.52,411.88 294.60,412.00 C295.68,412.12 296.35,411.63 297.50,411.50 C298.65,411.37 299.87,410.48 301.50,411.20 C303.13,411.92 305.37,415.33 307.30,415.80 C309.23,416.27 310.98,413.33 313.10,414.00 C315.22,414.67 318.08,418.63 320.00,419.80 C321.92,420.97 323.07,420.33 324.60,421.00 C326.13,421.67 327.67,423.42 329.20,423.80 C330.73,424.18 332.25,422.62 333.80,423.30 C335.35,423.98 336.95,426.65 338.50,427.90 C340.05,429.15 342.33,430.32 343.10,430.80" fill="none" stroke="#a80c3b" stroke-width="1.3" stroke-linejoin="round" stroke-linecap="round"/>
<rect x="295.6" y="484.0" width="7.7" height="8.5" fill="#ab1238" stroke="#d68aa0" stroke-width="0.6"/>
<rect x="295.6" y="497.9" width="7.7" height="8.2" fill="#4b1f6a" stroke="#a08ab8" stroke-width="0.6"/>
<text transform="translate(307.10,490.50) scale(0.94,1)" x="0" y="0" font-size="9" text-anchor="start" fill="#2a2a2a" stroke="#2a2a2a" font-weight="normal">WT</text>
<text transform="translate(307.10,505.00) scale(0.94,1)" x="0" y="0" font-size="9" text-anchor="start" fill="#2a2a2a" stroke="#2a2a2a" font-weight="normal">Siglec-G<tspan font-size="6.3" dy="-4.3">-/-</tspan></text>
<line x1="409.00" y1="389.20" x2="409.00" y2="513.10" stroke="#2a2a2a" stroke-width="1.2"/>
<line x1="406.00" y1="513.10" x2="409.00" y2="513.10" stroke="#2a2a2a" stroke-width="1.2"/>
<text transform="translate(402.30,516.50) scale(0.92,1)" x="0" y="0" font-size="9.4" text-anchor="end" fill="#2a2a2a" stroke="#2a2a2a" font-weight="normal">0</text>
<line x1="406.00" y1="482.85" x2="409.00" y2="482.85" stroke="#2a2a2a" stroke-width="1.2"/>
<text transform="translate(402.30,486.25) scale(0.92,1)" x="0" y="0" font-size="9.4" text-anchor="end" fill="#2a2a2a" stroke="#2a2a2a" font-weight="normal">10</text>
<line x1="406.00" y1="452.60" x2="409.00" y2="452.60" stroke="#2a2a2a" stroke-width="1.2"/>
<text transform="translate(402.30,456.00) scale(0.92,1)" x="0" y="0" font-size="9.4" text-anchor="end" fill="#2a2a2a" stroke="#2a2a2a" font-weight="normal">20</text>
<line x1="406.00" y1="422.35" x2="409.00" y2="422.35" stroke="#2a2a2a" stroke-width="1.2"/>
<text transform="translate(402.30,425.75) scale(0.92,1)" x="0" y="0" font-size="9.4" text-anchor="end" fill="#2a2a2a" stroke="#2a2a2a" font-weight="normal">30</text>
<line x1="406.00" y1="392.10" x2="409.00" y2="392.10" stroke="#2a2a2a" stroke-width="1.2"/>
<text transform="translate(402.30,395.50) scale(0.92,1)" x="0" y="0" font-size="9.4" text-anchor="end" fill="#2a2a2a" stroke="#2a2a2a" font-weight="normal">40</text>
<rect x="422.30" y="459.00" width="27.30" height="54.10" fill="#ecd3cc"/>
<rect x="463.10" y="476.20" width="26.90" height="36.90" fill="#d3c5dd"/>
<line x1="408.40" y1="513.10" x2="508.50" y2="513.10" stroke="#2a2a2a" stroke-width="1.2"/>
<line x1="436.00" y1="513.10" x2="436.00" y2="516.30" stroke="#2a2a2a" stroke-width="1.0"/>
<line x1="476.50" y1="513.10" x2="476.50" y2="516.30" stroke="#2a2a2a" stroke-width="1.0"/>
<text x="436.00" y="527.20" font-size="9" text-anchor="middle" fill="#2a2a2a" stroke="#2a2a2a" font-weight="normal">WT</text>
<text x="476.50" y="527.20" font-size="9" text-anchor="middle" fill="#2a2a2a" stroke="#2a2a2a" font-weight="normal">Siglec-G<tspan font-size="6.3" dy="-4.3">-/-</tspan></text>
<line x1="435.80" y1="454.60" x2="435.80" y2="463.40" stroke="#2a2a2a" stroke-width="1.2"/>
<line x1="429.30" y1="454.60" x2="442.30" y2="454.60" stroke="#2a2a2a" stroke-width="1.2"/>
<line x1="429.30" y1="463.40" x2="442.30" y2="463.40" stroke="#2a2a2a" stroke-width="1.2"/>
<line x1="476.80" y1="471.50" x2="476.80" y2="479.20" stroke="#2a2a2a" stroke-width="1.2"/>
<line x1="470.00" y1="471.50" x2="483.60" y2="471.50" stroke="#2a2a2a" stroke-width="1.2"/>
<line x1="470.00" y1="479.20" x2="483.60" y2="479.20" stroke="#2a2a2a" stroke-width="1.2"/>
<circle cx="435.80" cy="422.00" r="2.4" fill="#b3102b" stroke="#000" stroke-width="1.0"/>
<circle cx="430.50" cy="437.70" r="2.4" fill="#b3102b" stroke="#000" stroke-width="1.0"/>
<circle cx="441.50" cy="439.20" r="2.4" fill="#b3102b" stroke="#000" stroke-width="1.0"/>
<circle cx="435.80" cy="448.80" r="2.4" fill="#b3102b" stroke="#000" stroke-width="1.0"/>
<circle cx="424.90" cy="451.80" r="2.4" fill="#b3102b" stroke="#000" stroke-width="1.0"/>
<circle cx="446.90" cy="451.80" r="2.4" fill="#b3102b" stroke="#000" stroke-width="1.0"/>
<circle cx="430.50" cy="458.00" r="2.4" fill="#b3102b" stroke="#000" stroke-width="1.0"/>
<circle cx="441.50" cy="459.20" r="2.4" fill="#b3102b" stroke="#000" stroke-width="1.0"/>
<circle cx="435.80" cy="464.60" r="2.4" fill="#b3102b" stroke="#000" stroke-width="1.0"/>
<circle cx="424.90" cy="467.80" r="2.4" fill="#b3102b" stroke="#000" stroke-width="1.0"/>
<circle cx="446.90" cy="467.80" r="2.4" fill="#b3102b" stroke="#000" stroke-width="1.0"/>
<circle cx="435.80" cy="471.00" r="2.4" fill="#b3102b" stroke="#000" stroke-width="1.0"/>
<circle cx="435.80" cy="476.20" r="2.4" fill="#b3102b" stroke="#000" stroke-width="1.0"/>
<circle cx="435.80" cy="482.00" r="2.4" fill="#b3102b" stroke="#000" stroke-width="1.0"/>
<circle cx="435.80" cy="488.50" r="2.4" fill="#b3102b" stroke="#000" stroke-width="1.0"/>
<circle cx="476.50" cy="433.80" r="2.4" fill="#4f1f70" stroke="#000" stroke-width="1.0"/>
<circle cx="476.50" cy="446.20" r="2.4" fill="#4f1f70" stroke="#000" stroke-width="1.0"/>
<circle cx="476.50" cy="459.50" r="2.4" fill="#4f1f70" stroke="#000" stroke-width="1.0"/>
<circle cx="476.50" cy="464.90" r="2.4" fill="#4f1f70" stroke="#000" stroke-width="1.0"/>
<circle cx="476.50" cy="470.00" r="2.4" fill="#4f1f70" stroke="#000" stroke-width="1.0"/>
<circle cx="465.70" cy="475.10" r="2.4" fill="#4f1f70" stroke="#000" stroke-width="1.0"/>
<circle cx="472.80" cy="477.70" r="2.4" fill="#4f1f70" stroke="#000" stroke-width="1.0"/>
<circle cx="480.50" cy="476.20" r="2.4" fill="#4f1f70" stroke="#000" stroke-width="1.0"/>
<circle cx="488.00" cy="478.00" r="2.4" fill="#4f1f70" stroke="#000" stroke-width="1.0"/>
<circle cx="465.70" cy="482.80" r="2.4" fill="#4f1f70" stroke="#000" stroke-width="1.0"/>
<circle cx="472.80" cy="482.30" r="2.4" fill="#4f1f70" stroke="#000" stroke-width="1.0"/>
<circle cx="480.50" cy="481.20" r="2.4" fill="#4f1f70" stroke="#000" stroke-width="1.0"/>
<circle cx="488.00" cy="484.20" r="2.4" fill="#4f1f70" stroke="#000" stroke-width="1.0"/>
<circle cx="465.70" cy="487.70" r="2.4" fill="#4f1f70" stroke="#000" stroke-width="1.0"/>
<circle cx="472.80" cy="487.20" r="2.4" fill="#4f1f70" stroke="#000" stroke-width="1.0"/>
<circle cx="488.00" cy="489.70" r="2.4" fill="#4f1f70" stroke="#000" stroke-width="1.0"/>
<circle cx="465.70" cy="492.60" r="2.4" fill="#4f1f70" stroke="#000" stroke-width="1.0"/>
<circle cx="480.50" cy="490.50" r="2.4" fill="#4f1f70" stroke="#000" stroke-width="1.0"/>
<path d="M435.4,417.7 L435.4,413.4 L476.6,413.4 L476.6,428.5" fill="none" stroke="#2a2a2a" stroke-width="1.05"/>
<text x="456.20" y="414.50" font-size="9.5" text-anchor="middle" fill="#2a2a2a" stroke="#2a2a2a" font-weight="normal">**</text>
<text transform="translate(386.60,450.60) rotate(-90)" x="0" y="0" font-size="10" text-anchor="middle" fill="#2a2a2a" stroke="#2a2a2a" textLength="64" lengthAdjust="spacingAndGlyphs">Peakheight [nM]</text>
</svg>
</body></html>
